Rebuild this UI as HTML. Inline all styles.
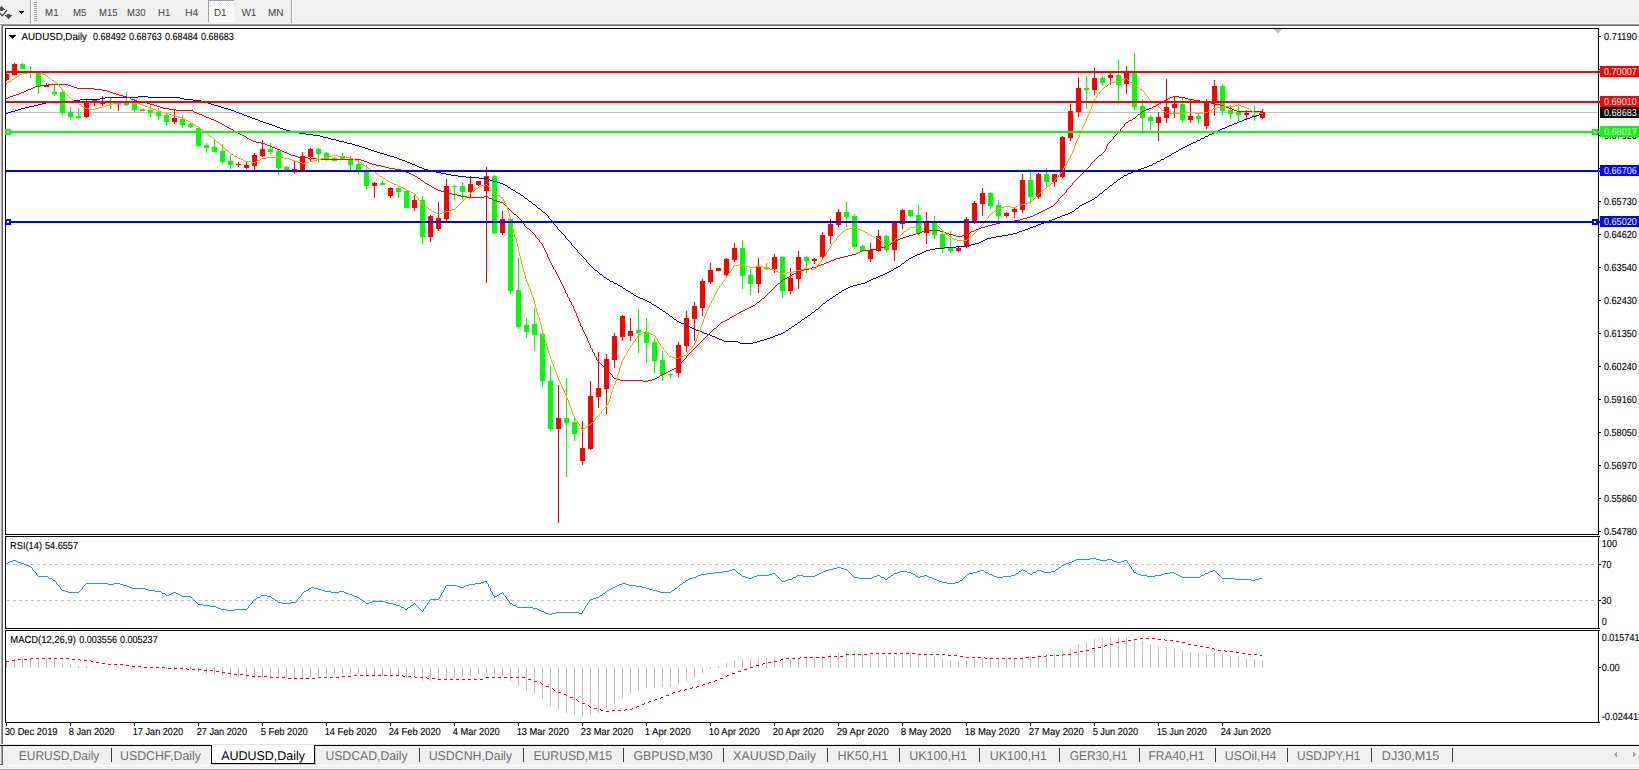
<!DOCTYPE html>
<html><head><meta charset="utf-8"><title>AUDUSD,Daily</title>
<style>
html,body{margin:0;padding:0;background:#fff;overflow:hidden}
svg{display:block;font-family:"Liberation Sans",sans-serif}
text{white-space:pre;text-rendering:geometricPrecision}
</style></head><body>
<svg width="1639" height="770" viewBox="0 0 1639 770">
<rect x="0" y="0" width="1639" height="770" fill="#fff"/>
<rect x="0" y="0" width="1639" height="23" fill="#f0f0f0"/>
<rect x="0" y="23" width="1639" height="1" fill="#f6f6f6"/>
<rect x="0" y="24" width="1639" height="1" fill="#a0a0a0"/>
<rect x="0" y="25" width="1639" height="1" fill="#696969"/>
<rect x="0" y="25" width="1" height="719" fill="#f0f0f0"/>
<rect x="1" y="25" width="1" height="719" fill="#a0a0a0"/>
<rect x="2" y="25" width="1" height="719" fill="#696969"/>
<rect x="0" y="24" width="1639" height="1" fill="#a0a0a0"/>
<rect x="2" y="25" width="1637" height="1" fill="#696969"/>
<g shape-rendering="crispEdges">
<rect x="1" y="6" width="1" height="1" fill="#505050"/>
<rect x="0" y="7" width="3" height="1" fill="#505050"/>
<rect x="0" y="8" width="4" height="1" fill="#505050"/>
<rect x="0" y="9" width="5" height="1" fill="#505050"/>
<rect x="0" y="10" width="3" height="1" fill="#505050"/>
<rect x="7" y="14" width="3" height="1" fill="#505050"/>
<rect x="5" y="15" width="7" height="1" fill="#505050"/>
<rect x="6" y="16" width="5" height="1" fill="#505050"/>
<rect x="7" y="17" width="3" height="1" fill="#505050"/>
<rect x="8" y="18" width="1" height="1" fill="#505050"/>
<rect x="19" y="11" width="5" height="1" fill="#000"/>
<rect x="20" y="12" width="3" height="1" fill="#000"/>
<rect x="21" y="13" width="1" height="1" fill="#000"/>
</g>
<polyline points="-0.5,13.1 2.4,15.8 6.9,10.4" fill="none" stroke="#505050" stroke-width="1.4"/>
<rect x="30" y="0" width="1" height="23" fill="#a0a0a0"/>
<rect x="31" y="0" width="1" height="23" fill="#fff"/>
<rect x="34" y="2" width="3" height="1" fill="#a0a0a0"/>
<rect x="34" y="4" width="3" height="1" fill="#a0a0a0"/>
<rect x="34" y="6" width="3" height="1" fill="#a0a0a0"/>
<rect x="34" y="8" width="3" height="1" fill="#a0a0a0"/>
<rect x="34" y="10" width="3" height="1" fill="#a0a0a0"/>
<rect x="34" y="12" width="3" height="1" fill="#a0a0a0"/>
<rect x="34" y="14" width="3" height="1" fill="#a0a0a0"/>
<rect x="34" y="16" width="3" height="1" fill="#a0a0a0"/>
<rect x="34" y="18" width="3" height="1" fill="#a0a0a0"/>
<rect x="34" y="20" width="3" height="1" fill="#a0a0a0"/>
<defs><pattern id="chk" width="2" height="2" patternUnits="userSpaceOnUse"><rect width="2" height="2" fill="#f0f0f0"/><rect width="1" height="1" fill="#fff"/><rect x="1" y="1" width="1" height="1" fill="#fff"/></pattern></defs>
<rect x="208" y="0" width="26" height="22" fill="url(#chk)"/>
<rect x="208" y="0" width="26" height="1" fill="#a0a0a0"/>
<rect x="208" y="0" width="1" height="22" fill="#a0a0a0"/>
<rect x="233" y="1" width="1" height="21" fill="#fff"/>
<rect x="209" y="21" width="25" height="1" fill="#fff"/>
<rect x="291" y="0" width="1" height="23" fill="#a0a0a0"/>
<rect x="292" y="0" width="1" height="23" fill="#fff"/>
<text x="45.1" y="16" font-size="10.2" fill="#444" stroke="#444" stroke-width="0" textLength="13.4" lengthAdjust="spacingAndGlyphs">M1</text>
<text x="73.0" y="16" font-size="10.2" fill="#444" stroke="#444" stroke-width="0" textLength="13.4" lengthAdjust="spacingAndGlyphs">M5</text>
<text x="99.10000000000001" y="16" font-size="10.2" fill="#444" stroke="#444" stroke-width="0" textLength="18.4" lengthAdjust="spacingAndGlyphs">M15</text>
<text x="127.0" y="16" font-size="10.2" fill="#444" stroke="#444" stroke-width="0" textLength="18.4" lengthAdjust="spacingAndGlyphs">M30</text>
<text x="158.1" y="16" font-size="10.2" fill="#444" stroke="#444" stroke-width="0" textLength="12.4" lengthAdjust="spacingAndGlyphs">H1</text>
<text x="185.1" y="16" font-size="10.2" fill="#444" stroke="#444" stroke-width="0" textLength="13.3" lengthAdjust="spacingAndGlyphs">H4</text>
<text x="213.9" y="16" font-size="10.2" fill="#444" stroke="#444" stroke-width="0" textLength="12.5" lengthAdjust="spacingAndGlyphs">D1</text>
<text x="241.4" y="16" font-size="10.2" fill="#444" stroke="#444" stroke-width="0" textLength="15.0" lengthAdjust="spacingAndGlyphs">W1</text>
<text x="267.9" y="16" font-size="10.2" fill="#444" stroke="#444" stroke-width="0" textLength="15.5" lengthAdjust="spacingAndGlyphs">MN</text>
<rect x="5" y="28" width="1594" height="1" fill="#000"/>
<rect x="5" y="534" width="1594" height="1" fill="#000"/>
<rect x="5" y="28" width="1" height="507" fill="#000"/>
<rect x="1598" y="28" width="1" height="507" fill="#000"/>
<rect x="5" y="536" width="1594" height="1" fill="#000"/>
<rect x="5" y="628" width="1594" height="1" fill="#000"/>
<rect x="5" y="536" width="1" height="93" fill="#000"/>
<rect x="1598" y="536" width="1" height="93" fill="#000"/>
<rect x="5" y="630" width="1594" height="1" fill="#000"/>
<rect x="5" y="722" width="1594" height="1" fill="#000"/>
<rect x="5" y="630" width="1" height="93" fill="#000"/>
<rect x="1598" y="630" width="1" height="93" fill="#000"/>
<defs><clipPath id="c1"><rect x="6" y="29" width="1592" height="505"/></clipPath></defs>
<g clip-path="url(#c1)" shape-rendering="crispEdges">
<rect x="6" y="112" width="1592" height="1" fill="#c0c0c0"/>
<rect x="6" y="73" width="1" height="8" fill="#ff0000"/>
<rect x="4" y="74" width="5" height="6" fill="#ff0000"/>
<rect x="14" y="63" width="1" height="12" fill="#ff0000"/>
<rect x="12" y="64" width="5" height="11" fill="#ff0000"/>
<rect x="22" y="63" width="1" height="6" fill="#00ff00"/>
<rect x="20" y="64" width="5" height="5" fill="#00ff00"/>
<rect x="30" y="66" width="1" height="12" fill="#00ff00"/>
<rect x="28" y="71" width="5" height="1" fill="#00ff00"/>
<rect x="38" y="73" width="1" height="21" fill="#00ff00"/>
<rect x="36" y="73" width="5" height="14" fill="#00ff00"/>
<rect x="46" y="83" width="1" height="4" fill="#ff0000"/>
<rect x="44" y="85" width="5" height="2" fill="#ff0000"/>
<rect x="54" y="85" width="1" height="11" fill="#00ff00"/>
<rect x="52" y="92" width="5" height="2" fill="#00ff00"/>
<rect x="62" y="90" width="1" height="25" fill="#00ff00"/>
<rect x="60" y="92" width="5" height="21" fill="#00ff00"/>
<rect x="70" y="107" width="1" height="12" fill="#00ff00"/>
<rect x="68" y="112" width="5" height="5" fill="#00ff00"/>
<rect x="78" y="108" width="1" height="11" fill="#00ff00"/>
<rect x="76" y="116" width="5" height="2" fill="#00ff00"/>
<rect x="86" y="100" width="1" height="18" fill="#ff0000"/>
<rect x="84" y="102" width="5" height="15" fill="#ff0000"/>
<rect x="94" y="100" width="1" height="6" fill="#ff0000"/>
<rect x="92" y="100" width="5" height="2" fill="#ff0000"/>
<rect x="102" y="96" width="1" height="10" fill="#ff0000"/>
<rect x="100" y="102" width="5" height="2" fill="#ff0000"/>
<rect x="110" y="98" width="1" height="11" fill="#00ff00"/>
<rect x="108" y="101" width="5" height="2" fill="#00ff00"/>
<rect x="118" y="102" width="1" height="9" fill="#ff0000"/>
<rect x="116" y="102" width="5" height="2" fill="#ff0000"/>
<rect x="126" y="92" width="1" height="14" fill="#00ff00"/>
<rect x="124" y="103" width="5" height="2" fill="#00ff00"/>
<rect x="134" y="99" width="1" height="13" fill="#00ff00"/>
<rect x="132" y="103" width="5" height="7" fill="#00ff00"/>
<rect x="142" y="109" width="1" height="2" fill="#00ff00"/>
<rect x="140" y="109" width="5" height="2" fill="#00ff00"/>
<rect x="150" y="106" width="1" height="11" fill="#00ff00"/>
<rect x="148" y="110" width="5" height="3" fill="#00ff00"/>
<rect x="158" y="108" width="1" height="12" fill="#00ff00"/>
<rect x="156" y="112" width="5" height="4" fill="#00ff00"/>
<rect x="166" y="114" width="1" height="11" fill="#00ff00"/>
<rect x="164" y="115" width="5" height="7" fill="#00ff00"/>
<rect x="174" y="110" width="1" height="14" fill="#ff0000"/>
<rect x="172" y="118" width="5" height="4" fill="#ff0000"/>
<rect x="182" y="115" width="1" height="13" fill="#00ff00"/>
<rect x="180" y="119" width="5" height="6" fill="#00ff00"/>
<rect x="190" y="123" width="1" height="5" fill="#00ff00"/>
<rect x="188" y="124" width="5" height="3" fill="#00ff00"/>
<rect x="198" y="127" width="1" height="20" fill="#00ff00"/>
<rect x="196" y="128" width="5" height="18" fill="#00ff00"/>
<rect x="206" y="143" width="1" height="10" fill="#00ff00"/>
<rect x="204" y="145" width="5" height="3" fill="#00ff00"/>
<rect x="214" y="139" width="1" height="14" fill="#00ff00"/>
<rect x="212" y="147" width="5" height="5" fill="#00ff00"/>
<rect x="222" y="144" width="1" height="20" fill="#00ff00"/>
<rect x="220" y="151" width="5" height="11" fill="#00ff00"/>
<rect x="230" y="155" width="1" height="14" fill="#00ff00"/>
<rect x="228" y="161" width="5" height="4" fill="#00ff00"/>
<rect x="238" y="162" width="1" height="5" fill="#ff0000"/>
<rect x="236" y="164" width="5" height="1" fill="#ff0000"/>
<rect x="246" y="161" width="1" height="8" fill="#ff0000"/>
<rect x="244" y="165" width="5" height="3" fill="#ff0000"/>
<rect x="254" y="153" width="1" height="17" fill="#ff0000"/>
<rect x="252" y="155" width="5" height="11" fill="#ff0000"/>
<rect x="262" y="140" width="1" height="17" fill="#ff0000"/>
<rect x="260" y="149" width="5" height="7" fill="#ff0000"/>
<rect x="270" y="143" width="1" height="11" fill="#00ff00"/>
<rect x="268" y="149" width="5" height="3" fill="#00ff00"/>
<rect x="278" y="150" width="1" height="25" fill="#00ff00"/>
<rect x="276" y="151" width="5" height="17" fill="#00ff00"/>
<rect x="286" y="166" width="1" height="4" fill="#00ff00"/>
<rect x="284" y="167" width="5" height="3" fill="#00ff00"/>
<rect x="294" y="161" width="1" height="13" fill="#ff0000"/>
<rect x="292" y="169" width="5" height="2" fill="#ff0000"/>
<rect x="302" y="152" width="1" height="18" fill="#ff0000"/>
<rect x="300" y="156" width="5" height="14" fill="#ff0000"/>
<rect x="310" y="148" width="1" height="13" fill="#ff0000"/>
<rect x="308" y="149" width="5" height="8" fill="#ff0000"/>
<rect x="318" y="148" width="1" height="14" fill="#00ff00"/>
<rect x="316" y="149" width="5" height="5" fill="#00ff00"/>
<rect x="326" y="152" width="1" height="9" fill="#00ff00"/>
<rect x="324" y="153" width="5" height="6" fill="#00ff00"/>
<rect x="334" y="157" width="1" height="4" fill="#00ff00"/>
<rect x="332" y="158" width="5" height="3" fill="#00ff00"/>
<rect x="342" y="153" width="1" height="7" fill="#00ff00"/>
<rect x="340" y="156" width="5" height="3" fill="#00ff00"/>
<rect x="350" y="156" width="1" height="14" fill="#00ff00"/>
<rect x="348" y="159" width="5" height="6" fill="#00ff00"/>
<rect x="358" y="159" width="1" height="15" fill="#00ff00"/>
<rect x="356" y="164" width="5" height="6" fill="#00ff00"/>
<rect x="366" y="165" width="1" height="24" fill="#00ff00"/>
<rect x="364" y="170" width="5" height="16" fill="#00ff00"/>
<rect x="374" y="182" width="1" height="16" fill="#ff0000"/>
<rect x="372" y="183" width="5" height="3" fill="#ff0000"/>
<rect x="382" y="181" width="1" height="4" fill="#00ff00"/>
<rect x="380" y="183" width="5" height="2" fill="#00ff00"/>
<rect x="390" y="187" width="1" height="11" fill="#ff0000"/>
<rect x="388" y="188" width="5" height="8" fill="#ff0000"/>
<rect x="398" y="187" width="1" height="11" fill="#00ff00"/>
<rect x="396" y="188" width="5" height="4" fill="#00ff00"/>
<rect x="406" y="191" width="1" height="17" fill="#00ff00"/>
<rect x="404" y="191" width="5" height="17" fill="#00ff00"/>
<rect x="414" y="195" width="1" height="16" fill="#ff0000"/>
<rect x="412" y="200" width="5" height="8" fill="#ff0000"/>
<rect x="422" y="196" width="1" height="48" fill="#00ff00"/>
<rect x="420" y="200" width="5" height="37" fill="#00ff00"/>
<rect x="430" y="215" width="1" height="27" fill="#ff0000"/>
<rect x="428" y="216" width="5" height="21" fill="#ff0000"/>
<rect x="438" y="202" width="1" height="29" fill="#ff0000"/>
<rect x="436" y="218" width="5" height="11" fill="#ff0000"/>
<rect x="446" y="179" width="1" height="42" fill="#ff0000"/>
<rect x="444" y="186" width="5" height="33" fill="#ff0000"/>
<rect x="454" y="185" width="1" height="16" fill="#00ff00"/>
<rect x="452" y="186" width="5" height="1" fill="#00ff00"/>
<rect x="462" y="182" width="1" height="18" fill="#00ff00"/>
<rect x="460" y="186" width="5" height="6" fill="#00ff00"/>
<rect x="470" y="176" width="1" height="22" fill="#ff0000"/>
<rect x="468" y="184" width="5" height="8" fill="#ff0000"/>
<rect x="478" y="181" width="1" height="5" fill="#ff0000"/>
<rect x="476" y="181" width="5" height="4" fill="#ff0000"/>
<rect x="486" y="167" width="1" height="116" fill="#ff0000"/>
<rect x="484" y="176" width="5" height="15" fill="#ff0000"/>
<rect x="494" y="175" width="1" height="59" fill="#00ff00"/>
<rect x="492" y="176" width="5" height="57" fill="#00ff00"/>
<rect x="502" y="211" width="1" height="24" fill="#ff0000"/>
<rect x="500" y="219" width="5" height="14" fill="#ff0000"/>
<rect x="510" y="217" width="1" height="77" fill="#00ff00"/>
<rect x="508" y="219" width="5" height="72" fill="#00ff00"/>
<rect x="518" y="258" width="1" height="71" fill="#00ff00"/>
<rect x="516" y="290" width="5" height="37" fill="#00ff00"/>
<rect x="526" y="318" width="1" height="20" fill="#00ff00"/>
<rect x="524" y="325" width="5" height="7" fill="#00ff00"/>
<rect x="534" y="308" width="1" height="43" fill="#00ff00"/>
<rect x="532" y="324" width="5" height="11" fill="#00ff00"/>
<rect x="542" y="329" width="1" height="58" fill="#00ff00"/>
<rect x="540" y="334" width="5" height="47" fill="#00ff00"/>
<rect x="550" y="366" width="1" height="65" fill="#00ff00"/>
<rect x="548" y="381" width="5" height="48" fill="#00ff00"/>
<rect x="558" y="385" width="1" height="138" fill="#ff0000"/>
<rect x="556" y="418" width="5" height="11" fill="#ff0000"/>
<rect x="566" y="378" width="1" height="99" fill="#00ff00"/>
<rect x="564" y="418" width="5" height="5" fill="#00ff00"/>
<rect x="574" y="418" width="1" height="23" fill="#00ff00"/>
<rect x="572" y="422" width="5" height="12" fill="#00ff00"/>
<rect x="582" y="421" width="1" height="44" fill="#ff0000"/>
<rect x="580" y="448" width="5" height="13" fill="#ff0000"/>
<rect x="590" y="381" width="1" height="69" fill="#ff0000"/>
<rect x="588" y="396" width="5" height="53" fill="#ff0000"/>
<rect x="598" y="352" width="1" height="56" fill="#ff0000"/>
<rect x="596" y="388" width="5" height="9" fill="#ff0000"/>
<rect x="606" y="354" width="1" height="60" fill="#ff0000"/>
<rect x="604" y="359" width="5" height="30" fill="#ff0000"/>
<rect x="614" y="333" width="1" height="35" fill="#ff0000"/>
<rect x="612" y="336" width="5" height="24" fill="#ff0000"/>
<rect x="622" y="315" width="1" height="26" fill="#ff0000"/>
<rect x="620" y="316" width="5" height="21" fill="#ff0000"/>
<rect x="630" y="318" width="1" height="23" fill="#ff0000"/>
<rect x="628" y="331" width="5" height="5" fill="#ff0000"/>
<rect x="638" y="309" width="1" height="44" fill="#00ff00"/>
<rect x="636" y="330" width="5" height="3" fill="#00ff00"/>
<rect x="646" y="318" width="1" height="45" fill="#00ff00"/>
<rect x="644" y="332" width="5" height="11" fill="#00ff00"/>
<rect x="654" y="338" width="1" height="35" fill="#00ff00"/>
<rect x="652" y="342" width="5" height="19" fill="#00ff00"/>
<rect x="662" y="351" width="1" height="30" fill="#00ff00"/>
<rect x="660" y="360" width="5" height="15" fill="#00ff00"/>
<rect x="670" y="373" width="1" height="5" fill="#00ff00"/>
<rect x="668" y="374" width="5" height="1" fill="#00ff00"/>
<rect x="678" y="342" width="1" height="35" fill="#ff0000"/>
<rect x="676" y="345" width="5" height="28" fill="#ff0000"/>
<rect x="686" y="311" width="1" height="41" fill="#ff0000"/>
<rect x="684" y="318" width="5" height="28" fill="#ff0000"/>
<rect x="694" y="302" width="1" height="39" fill="#ff0000"/>
<rect x="692" y="306" width="5" height="13" fill="#ff0000"/>
<rect x="702" y="279" width="1" height="37" fill="#ff0000"/>
<rect x="700" y="281" width="5" height="27" fill="#ff0000"/>
<rect x="710" y="263" width="1" height="21" fill="#ff0000"/>
<rect x="708" y="270" width="5" height="12" fill="#ff0000"/>
<rect x="718" y="268" width="1" height="3" fill="#ff0000"/>
<rect x="716" y="268" width="5" height="3" fill="#ff0000"/>
<rect x="726" y="258" width="1" height="18" fill="#ff0000"/>
<rect x="724" y="259" width="5" height="16" fill="#ff0000"/>
<rect x="734" y="243" width="1" height="19" fill="#ff0000"/>
<rect x="732" y="248" width="5" height="12" fill="#ff0000"/>
<rect x="742" y="240" width="1" height="49" fill="#00ff00"/>
<rect x="740" y="248" width="5" height="28" fill="#00ff00"/>
<rect x="750" y="269" width="1" height="26" fill="#00ff00"/>
<rect x="748" y="275" width="5" height="9" fill="#00ff00"/>
<rect x="758" y="258" width="1" height="35" fill="#ff0000"/>
<rect x="756" y="266" width="5" height="18" fill="#ff0000"/>
<rect x="766" y="263" width="1" height="7" fill="#00ff00"/>
<rect x="764" y="267" width="5" height="2" fill="#00ff00"/>
<rect x="774" y="254" width="1" height="19" fill="#ff0000"/>
<rect x="772" y="257" width="5" height="12" fill="#ff0000"/>
<rect x="782" y="256" width="1" height="42" fill="#00ff00"/>
<rect x="780" y="257" width="5" height="34" fill="#00ff00"/>
<rect x="790" y="268" width="1" height="26" fill="#ff0000"/>
<rect x="788" y="278" width="5" height="13" fill="#ff0000"/>
<rect x="798" y="251" width="1" height="38" fill="#ff0000"/>
<rect x="796" y="257" width="5" height="22" fill="#ff0000"/>
<rect x="806" y="256" width="1" height="17" fill="#00ff00"/>
<rect x="804" y="257" width="5" height="4" fill="#00ff00"/>
<rect x="814" y="258" width="1" height="6" fill="#ff0000"/>
<rect x="812" y="259" width="5" height="2" fill="#ff0000"/>
<rect x="822" y="232" width="1" height="26" fill="#ff0000"/>
<rect x="820" y="235" width="5" height="22" fill="#ff0000"/>
<rect x="830" y="219" width="1" height="25" fill="#ff0000"/>
<rect x="828" y="224" width="5" height="12" fill="#ff0000"/>
<rect x="838" y="209" width="1" height="18" fill="#ff0000"/>
<rect x="836" y="212" width="5" height="13" fill="#ff0000"/>
<rect x="846" y="202" width="1" height="25" fill="#00ff00"/>
<rect x="844" y="212" width="5" height="5" fill="#00ff00"/>
<rect x="854" y="214" width="1" height="35" fill="#00ff00"/>
<rect x="852" y="216" width="5" height="31" fill="#00ff00"/>
<rect x="862" y="245" width="1" height="7" fill="#00ff00"/>
<rect x="860" y="246" width="5" height="5" fill="#00ff00"/>
<rect x="870" y="243" width="1" height="19" fill="#ff0000"/>
<rect x="868" y="250" width="5" height="9" fill="#ff0000"/>
<rect x="878" y="230" width="1" height="22" fill="#ff0000"/>
<rect x="876" y="236" width="5" height="15" fill="#ff0000"/>
<rect x="886" y="235" width="1" height="17" fill="#00ff00"/>
<rect x="884" y="236" width="5" height="14" fill="#00ff00"/>
<rect x="894" y="221" width="1" height="40" fill="#ff0000"/>
<rect x="892" y="223" width="5" height="27" fill="#ff0000"/>
<rect x="902" y="209" width="1" height="20" fill="#ff0000"/>
<rect x="900" y="210" width="5" height="14" fill="#ff0000"/>
<rect x="910" y="210" width="1" height="7" fill="#00ff00"/>
<rect x="908" y="210" width="5" height="6" fill="#00ff00"/>
<rect x="918" y="205" width="1" height="30" fill="#00ff00"/>
<rect x="916" y="215" width="5" height="18" fill="#00ff00"/>
<rect x="926" y="212" width="1" height="32" fill="#ff0000"/>
<rect x="924" y="223" width="5" height="10" fill="#ff0000"/>
<rect x="934" y="216" width="1" height="23" fill="#00ff00"/>
<rect x="932" y="221" width="5" height="14" fill="#00ff00"/>
<rect x="942" y="232" width="1" height="21" fill="#00ff00"/>
<rect x="940" y="234" width="5" height="15" fill="#00ff00"/>
<rect x="950" y="231" width="1" height="22" fill="#00ff00"/>
<rect x="948" y="247" width="5" height="4" fill="#00ff00"/>
<rect x="958" y="247" width="1" height="5" fill="#ff0000"/>
<rect x="956" y="248" width="5" height="3" fill="#ff0000"/>
<rect x="966" y="217" width="1" height="31" fill="#ff0000"/>
<rect x="964" y="219" width="5" height="28" fill="#ff0000"/>
<rect x="974" y="201" width="1" height="23" fill="#ff0000"/>
<rect x="972" y="203" width="5" height="18" fill="#ff0000"/>
<rect x="982" y="188" width="1" height="28" fill="#ff0000"/>
<rect x="980" y="193" width="5" height="11" fill="#ff0000"/>
<rect x="990" y="192" width="1" height="17" fill="#00ff00"/>
<rect x="988" y="193" width="5" height="13" fill="#00ff00"/>
<rect x="998" y="200" width="1" height="22" fill="#00ff00"/>
<rect x="996" y="205" width="5" height="11" fill="#00ff00"/>
<rect x="1006" y="212" width="1" height="5" fill="#ff0000"/>
<rect x="1004" y="213" width="5" height="3" fill="#ff0000"/>
<rect x="1014" y="208" width="1" height="10" fill="#ff0000"/>
<rect x="1012" y="209" width="5" height="3" fill="#ff0000"/>
<rect x="1022" y="174" width="1" height="39" fill="#ff0000"/>
<rect x="1020" y="180" width="5" height="30" fill="#ff0000"/>
<rect x="1030" y="169" width="1" height="35" fill="#00ff00"/>
<rect x="1028" y="180" width="5" height="17" fill="#00ff00"/>
<rect x="1038" y="173" width="1" height="26" fill="#ff0000"/>
<rect x="1036" y="174" width="5" height="23" fill="#ff0000"/>
<rect x="1046" y="168" width="1" height="20" fill="#00ff00"/>
<rect x="1044" y="174" width="5" height="8" fill="#00ff00"/>
<rect x="1054" y="174" width="1" height="13" fill="#ff0000"/>
<rect x="1052" y="174" width="5" height="8" fill="#ff0000"/>
<rect x="1062" y="136" width="1" height="42" fill="#ff0000"/>
<rect x="1060" y="137" width="5" height="40" fill="#ff0000"/>
<rect x="1070" y="104" width="1" height="37" fill="#ff0000"/>
<rect x="1068" y="111" width="5" height="27" fill="#ff0000"/>
<rect x="1078" y="77" width="1" height="40" fill="#ff0000"/>
<rect x="1076" y="88" width="5" height="24" fill="#ff0000"/>
<rect x="1086" y="76" width="1" height="33" fill="#00ff00"/>
<rect x="1084" y="88" width="5" height="2" fill="#00ff00"/>
<rect x="1094" y="68" width="1" height="27" fill="#ff0000"/>
<rect x="1092" y="78" width="5" height="12" fill="#ff0000"/>
<rect x="1102" y="76" width="1" height="10" fill="#00ff00"/>
<rect x="1100" y="78" width="5" height="5" fill="#00ff00"/>
<rect x="1110" y="73" width="1" height="12" fill="#ff0000"/>
<rect x="1108" y="75" width="5" height="3" fill="#ff0000"/>
<rect x="1118" y="60" width="1" height="45" fill="#00ff00"/>
<rect x="1116" y="75" width="5" height="10" fill="#00ff00"/>
<rect x="1126" y="66" width="1" height="28" fill="#ff0000"/>
<rect x="1124" y="73" width="5" height="11" fill="#ff0000"/>
<rect x="1134" y="53" width="1" height="57" fill="#00ff00"/>
<rect x="1132" y="73" width="5" height="34" fill="#00ff00"/>
<rect x="1142" y="99" width="1" height="35" fill="#00ff00"/>
<rect x="1140" y="106" width="5" height="12" fill="#00ff00"/>
<rect x="1150" y="115" width="1" height="15" fill="#00ff00"/>
<rect x="1148" y="117" width="5" height="4" fill="#00ff00"/>
<rect x="1158" y="112" width="1" height="29" fill="#ff0000"/>
<rect x="1156" y="117" width="5" height="6" fill="#ff0000"/>
<rect x="1166" y="79" width="1" height="44" fill="#ff0000"/>
<rect x="1164" y="107" width="5" height="11" fill="#ff0000"/>
<rect x="1174" y="97" width="1" height="21" fill="#ff0000"/>
<rect x="1172" y="104" width="5" height="4" fill="#ff0000"/>
<rect x="1182" y="98" width="1" height="24" fill="#00ff00"/>
<rect x="1180" y="104" width="5" height="16" fill="#00ff00"/>
<rect x="1190" y="100" width="1" height="23" fill="#ff0000"/>
<rect x="1188" y="116" width="5" height="4" fill="#ff0000"/>
<rect x="1198" y="114" width="1" height="10" fill="#00ff00"/>
<rect x="1196" y="116" width="5" height="3" fill="#00ff00"/>
<rect x="1206" y="99" width="1" height="30" fill="#ff0000"/>
<rect x="1204" y="101" width="5" height="25" fill="#ff0000"/>
<rect x="1214" y="80" width="1" height="36" fill="#ff0000"/>
<rect x="1212" y="86" width="5" height="16" fill="#ff0000"/>
<rect x="1222" y="84" width="1" height="31" fill="#00ff00"/>
<rect x="1220" y="86" width="5" height="25" fill="#00ff00"/>
<rect x="1230" y="105" width="1" height="14" fill="#00ff00"/>
<rect x="1228" y="110" width="5" height="4" fill="#00ff00"/>
<rect x="1238" y="104" width="1" height="17" fill="#00ff00"/>
<rect x="1236" y="112" width="5" height="3" fill="#00ff00"/>
<rect x="1246" y="110" width="1" height="9" fill="#ff0000"/>
<rect x="1244" y="113" width="5" height="2" fill="#ff0000"/>
<rect x="1254" y="105" width="1" height="16" fill="#00ff00"/>
<rect x="1252" y="115" width="5" height="2" fill="#00ff00"/>
<rect x="1262" y="109" width="1" height="10" fill="#ff0000"/>
<rect x="1260" y="112" width="5" height="6" fill="#ff0000"/>
</g>
<g clip-path="url(#c1)" shape-rendering="crispEdges">
<path d="M138 96.5h10M105 97.5h33M148 97.5h32M100 98.5h5M180 98.5h4M80 99.5h20M184 99.5h9M74 100.5h6M193 100.5h8M60 101.5h14M201 101.5h3M46 102.5h14M204 102.5h4M42 103.5h4M208 103.5h3M38 104.5h4M211 104.5h3M34 105.5h4M214 105.5h4M29 106.5h5M218 106.5h3M25 107.5h4M221 107.5h3M21 108.5h4M224 108.5h4M18 109.5h3M228 109.5h3M15 110.5h3M231 110.5h3M11 111.5h4M234 111.5h2M8 112.5h3M236 112.5h3M6 113.5h2M239 113.5h3M242 114.5h2M1259 114.5h3M244 115.5h3M1256 115.5h3M247 116.5h3M1252 116.5h4M250 117.5h2M1250 117.5h2M252 118.5h3M1247 118.5h3M255 119.5h3M1244 119.5h3M258 120.5h2M1242 120.5h2M260 121.5h3M1239 121.5h3M263 122.5h3M1237 122.5h2M266 123.5h3M1234 123.5h3M269 124.5h3M1232 124.5h2M272 125.5h3M1229 125.5h3M275 126.5h2M1227 126.5h2M277 127.5h3M1225 127.5h2M280 128.5h3M1222 128.5h3M283 129.5h3M1220 129.5h2M286 130.5h4M1218 130.5h2M290 131.5h4M1215 131.5h3M294 132.5h5M1214 132.5h1M299 133.5h7M1212 133.5h2M306 134.5h7M1209 134.5h3M313 135.5h7M1208 135.5h1M320 136.5h3M1205 136.5h3M323 137.5h5M1204 137.5h1M328 138.5h3M1201 138.5h3M331 139.5h5M1200 139.5h1M336 140.5h3M1197 140.5h3M339 141.5h5M1196 141.5h1M344 142.5h3M1193 142.5h3M347 143.5h5M1191 143.5h2M352 144.5h3M1189 144.5h2M355 145.5h4M1187 145.5h2M359 146.5h3M1185 146.5h2M362 147.5h3M1183 147.5h2M365 148.5h3M1181 148.5h2M368 149.5h3M1179 149.5h2M371 150.5h3M1178 150.5h1M374 151.5h3M1176 151.5h2M377 152.5h3M1174 152.5h2M380 153.5h4M1172 153.5h2M384 154.5h3M1171 154.5h1M387 155.5h3M1169 155.5h2M390 156.5h4M1167 156.5h2M394 157.5h3M1165 157.5h2M397 158.5h2M1164 158.5h1M399 159.5h3M1161 159.5h3M402 160.5h3M1160 160.5h1M405 161.5h2M1157 161.5h3M407 162.5h3M1156 162.5h1M410 163.5h2M1153 163.5h3M412 164.5h3M1152 164.5h1M415 165.5h2M1149 165.5h3M417 166.5h2M1147 166.5h2M419 167.5h3M1144 167.5h3M422 168.5h2M1141 168.5h3M424 169.5h4M1138 169.5h3M428 170.5h4M1136 170.5h2M432 171.5h4M1133 171.5h3M436 172.5h5M1131 172.5h2M441 173.5h5M1128 173.5h3M446 174.5h5M1127 174.5h1M451 175.5h7M1124 175.5h3M458 176.5h8M1123 176.5h1M466 177.5h13M1121 177.5h2M479 178.5h9M1120 178.5h1M488 179.5h2M1118 179.5h2M490 180.5h3M1117 180.5h1M493 181.5h4M1116 181.5h1M497 182.5h3M1114 182.5h2M500 183.5h3M1113 183.5h1M503 184.5h2M1112 184.5h1M505 185.5h2M1110 185.5h2M507 186.5h1M1109 186.5h1M508 187.5h2M1108 187.5h1M510 188.5h1M1107 188.5h1M511 189.5h2M1105 189.5h2M513 190.5h2M1104 190.5h1M515 191.5h1M1103 191.5h1M516 192.5h2M1102 192.5h1M518 193.5h2M1100 193.5h2M520 194.5h1M1099 194.5h1M521 195.5h2M1098 195.5h1M523 196.5h1M1097 196.5h1M524 197.5h1M1095 197.5h2M525 198.5h2M1094 198.5h1M527 199.5h1M1092 199.5h2M528 200.5h1M1090 200.5h2M529 201.5h2M1088 201.5h2M531 202.5h1M1086 202.5h2M532 203.5h1M1084 203.5h2M533 204.5h2M1082 204.5h2M535 205.5h1M1080 205.5h2M536 206.5h1M1079 206.5h1M537 207.5h1M1078 207.5h1M538 208.5h2M1076 208.5h2M540 209.5h1M1075 209.5h1M541 210.5h1M1074 210.5h1M542 211.5h1M1072 211.5h2M543 212.5h2M1070 212.5h2M545 213.5h1M1068 213.5h2M546 214.5h1M1065 214.5h3M547 215.5h1M1062 215.5h3M548 216.5h1M1060 216.5h2M548 217.5h1M1057 217.5h3M549 218.5h1M1055 218.5h2M550 219.5h1M1052 219.5h3M551 220.5h1M1049 220.5h3M551 221.5h1M1047 221.5h2M552 222.5h1M1044 222.5h3M553 223.5h1M1041 223.5h3M554 224.5h1M1038 224.5h3M555 225.5h1M1036 225.5h2M556 226.5h1M1033 226.5h3M557 227.5h1M1030 227.5h3M557 228.5h1M1028 228.5h2M558 229.5h1M1025 229.5h3M559 230.5h1M1022 230.5h3M560 231.5h1M1019 231.5h3M561 232.5h1M1017 232.5h2M562 233.5h1M1013 233.5h4M563 234.5h1M1008 234.5h5M564 235.5h1M1002 235.5h6M565 236.5h1M996 236.5h6M565 237.5h1M991 237.5h5M566 238.5h1M987 238.5h4M567 239.5h1M985 239.5h2M568 240.5h1M983 240.5h2M569 241.5h1M981 241.5h2M570 242.5h1M979 242.5h2M571 243.5h1M975 243.5h4M571 244.5h1M971 244.5h4M572 245.5h1M965 245.5h6M573 246.5h1M956 246.5h9M574 247.5h1M944 247.5h12M575 248.5h1M935 248.5h9M576 249.5h1M930 249.5h5M577 250.5h1M926 250.5h4M577 251.5h1M924 251.5h2M578 252.5h1M922 252.5h2M579 253.5h1M920 253.5h2M580 254.5h1M917 254.5h3M581 255.5h1M915 255.5h2M582 256.5h1M913 256.5h2M583 257.5h1M911 257.5h2M584 258.5h1M909 258.5h2M585 259.5h1M908 259.5h1M586 260.5h1M906 260.5h2M586 261.5h1M905 261.5h1M587 262.5h1M904 262.5h1M588 263.5h1M902 263.5h2M589 264.5h1M901 264.5h1M590 265.5h1M900 265.5h1M591 266.5h1M898 266.5h2M592 267.5h1M896 267.5h2M593 268.5h1M894 268.5h2M594 269.5h1M893 269.5h1M595 270.5h2M891 270.5h2M597 271.5h1M889 271.5h2M598 272.5h1M887 272.5h2M599 273.5h1M885 273.5h2M600 274.5h2M883 274.5h2M602 275.5h1M880 275.5h3M603 276.5h1M878 276.5h2M604 277.5h2M876 277.5h2M606 278.5h1M873 278.5h3M607 279.5h2M871 279.5h2M609 280.5h1M869 280.5h2M610 281.5h3M867 281.5h2M613 282.5h1M865 282.5h2M614 283.5h3M861 283.5h4M617 284.5h1M857 284.5h4M618 285.5h2M853 285.5h4M620 286.5h2M850 286.5h3M622 287.5h1M848 287.5h2M623 288.5h2M846 288.5h2M625 289.5h1M844 289.5h2M626 290.5h2M842 290.5h2M628 291.5h2M841 291.5h1M630 292.5h1M839 292.5h2M631 293.5h2M838 293.5h1M633 294.5h1M836 294.5h2M634 295.5h2M835 295.5h1M636 296.5h2M833 296.5h2M638 297.5h2M832 297.5h1M640 298.5h3M830 298.5h2M643 299.5h2M829 299.5h1M645 300.5h2M827 300.5h2M647 301.5h2M826 301.5h1M649 302.5h2M825 302.5h1M651 303.5h1M823 303.5h2M652 304.5h2M822 304.5h1M654 305.5h2M821 305.5h1M656 306.5h1M820 306.5h1M657 307.5h2M819 307.5h1M659 308.5h1M818 308.5h1M660 309.5h2M816 309.5h2M662 310.5h1M815 310.5h1M663 311.5h2M814 311.5h1M665 312.5h1M812 312.5h2M666 313.5h2M811 313.5h1M668 314.5h1M810 314.5h1M669 315.5h1M808 315.5h2M670 316.5h2M807 316.5h1M672 317.5h1M805 317.5h2M673 318.5h1M804 318.5h1M674 319.5h2M802 319.5h2M676 320.5h1M801 320.5h1M677 321.5h2M800 321.5h1M679 322.5h2M798 322.5h2M681 323.5h3M797 323.5h1M684 324.5h2M795 324.5h2M686 325.5h2M794 325.5h1M688 326.5h2M792 326.5h2M690 327.5h2M791 327.5h1M692 328.5h2M789 328.5h2M694 329.5h2M788 329.5h1M696 330.5h3M786 330.5h2M699 331.5h3M785 331.5h1M702 332.5h2M783 332.5h2M704 333.5h3M781 333.5h2M707 334.5h3M778 334.5h3M710 335.5h2M775 335.5h3M712 336.5h3M773 336.5h2M715 337.5h2M770 337.5h3M717 338.5h2M767 338.5h3M719 339.5h3M764 339.5h3M722 340.5h2M760 340.5h4M724 341.5h14M757 341.5h3M738 342.5h2M753 342.5h4M740 343.5h13" fill="none" stroke="#0000cd" stroke-width="1"/>
<path d="M48 84.5h20M40 85.5h8M68 85.5h3M35 86.5h5M71 86.5h3M33 87.5h2M74 87.5h3M31 88.5h2M77 88.5h17M28 89.5h3M94 89.5h8M26 90.5h2M102 90.5h5M24 91.5h2M107 91.5h3M21 92.5h3M110 92.5h3M19 93.5h2M113 93.5h3M16 94.5h3M116 94.5h3M13 95.5h3M119 95.5h4M10 96.5h3M123 96.5h4M1173 96.5h6M8 97.5h2M127 97.5h3M1170 97.5h3M1179 97.5h6M6 98.5h2M130 98.5h1M1168 98.5h2M1185 98.5h3M131 99.5h3M1166 99.5h2M1188 99.5h6M134 100.5h3M1164 100.5h2M1194 100.5h6M137 101.5h5M1163 101.5h1M1200 101.5h5M142 102.5h5M1161 102.5h2M1205 102.5h6M147 103.5h3M1159 103.5h2M1211 103.5h4M150 104.5h4M1157 104.5h2M1215 104.5h5M154 105.5h3M1156 105.5h1M1220 105.5h4M157 106.5h3M1153 106.5h3M1224 106.5h2M160 107.5h3M1152 107.5h1M1226 107.5h3M163 108.5h6M1149 108.5h3M1229 108.5h3M169 109.5h7M1146 109.5h3M1232 109.5h2M176 110.5h17M1144 110.5h2M1234 110.5h3M193 111.5h1M1142 111.5h2M1237 111.5h26M194 112.5h3M1141 112.5h1M197 113.5h2M1140 113.5h1M199 114.5h3M1138 114.5h2M202 115.5h2M1137 115.5h1M204 116.5h2M1136 116.5h1M206 117.5h3M1135 117.5h1M209 118.5h2M1133 118.5h2M211 119.5h3M1132 119.5h1M214 120.5h2M1129 120.5h3M216 121.5h2M1128 121.5h1M218 122.5h2M1126 122.5h2M220 123.5h2M1125 123.5h1M222 124.5h2M1124 124.5h1M224 125.5h1M1124 125.5h1M225 126.5h2M1123 126.5h1M227 127.5h2M1122 127.5h1M229 128.5h2M1121 128.5h1M231 129.5h2M1120 129.5h1M233 130.5h1M1120 130.5h1M234 131.5h3M1119 131.5h1M237 132.5h1M1118 132.5h1M238 133.5h2M1117 133.5h1M240 134.5h2M1116 134.5h1M242 135.5h2M1115 135.5h1M244 136.5h2M1114 136.5h1M246 137.5h1M1113 137.5h1M247 138.5h2M1113 138.5h1M249 139.5h2M1112 139.5h1M251 140.5h2M1111 140.5h1M253 141.5h3M1110 141.5h1M256 142.5h5M1109 142.5h1M261 143.5h4M1108 143.5h1M265 144.5h2M1107 144.5h1M267 145.5h3M1107 145.5h1M270 146.5h2M1106 146.5h1M272 147.5h3M1106 147.5h1M275 148.5h2M1106 148.5h1M277 149.5h3M1105 149.5h1M280 150.5h2M1105 150.5h1M282 151.5h2M1104 151.5h1M284 152.5h3M1103 152.5h1M287 153.5h2M1102 153.5h1M289 154.5h2M1101 154.5h1M291 155.5h4M1099 155.5h2M295 156.5h3M1098 156.5h1M298 157.5h10M1097 157.5h1M308 158.5h9M1096 158.5h1M317 159.5h44M1095 159.5h1M361 160.5h3M1094 160.5h1M364 161.5h3M1093 161.5h1M367 162.5h2M1092 162.5h1M369 163.5h3M1091 163.5h1M372 164.5h4M1090 164.5h1M376 165.5h5M1090 165.5h1M381 166.5h4M1089 166.5h1M385 167.5h4M1088 167.5h1M389 168.5h6M1087 168.5h1M395 169.5h6M1086 169.5h1M401 170.5h2M1085 170.5h1M403 171.5h3M1084 171.5h1M406 172.5h3M1083 172.5h1M409 173.5h2M1082 173.5h1M411 174.5h2M1081 174.5h1M413 175.5h2M1080 175.5h1M415 176.5h2M1079 176.5h1M417 177.5h1M1078 177.5h1M418 178.5h2M1077 178.5h1M420 179.5h1M1076 179.5h1M421 180.5h2M1075 180.5h1M423 181.5h1M1074 181.5h1M424 182.5h1M1073 182.5h1M425 183.5h2M1072 183.5h1M427 184.5h2M1072 184.5h1M429 185.5h2M1071 185.5h1M431 186.5h1M1070 186.5h1M432 187.5h2M1069 187.5h1M434 188.5h2M1068 188.5h1M436 189.5h2M1067 189.5h1M438 190.5h3M1066 190.5h1M441 191.5h3M1066 191.5h1M444 192.5h5M1065 192.5h1M449 193.5h3M1064 193.5h1M452 194.5h5M1063 194.5h1M457 195.5h4M1062 195.5h1M461 196.5h6M484 196.5h4M1061 196.5h1M467 197.5h17M488 197.5h1M1060 197.5h1M489 198.5h3M1059 198.5h1M492 199.5h1M1058 199.5h1M493 200.5h4M1058 200.5h1M497 201.5h3M1057 201.5h1M500 202.5h3M1056 202.5h1M503 203.5h1M1055 203.5h1M504 204.5h1M1054 204.5h1M505 205.5h1M1053 205.5h1M506 206.5h1M1051 206.5h2M507 207.5h1M1049 207.5h2M508 208.5h1M1047 208.5h2M509 209.5h1M1045 209.5h2M510 210.5h1M1043 210.5h2M511 211.5h1M1041 211.5h2M512 212.5h1M1039 212.5h2M513 213.5h1M1037 213.5h2M514 214.5h2M1035 214.5h2M516 215.5h1M1033 215.5h2M517 216.5h1M1030 216.5h3M518 217.5h1M1027 217.5h3M519 218.5h1M1023 218.5h4M520 219.5h1M1020 219.5h3M521 220.5h1M1014 220.5h6M521 221.5h1M1006 221.5h8M522 222.5h1M1000 222.5h6M523 223.5h1M996 223.5h4M524 224.5h1M992 224.5h4M524 225.5h1M988 225.5h4M525 226.5h1M985 226.5h3M526 227.5h1M981 227.5h4M527 228.5h2M978 228.5h3M529 229.5h1M976 229.5h2M530 230.5h1M925 230.5h15M974 230.5h2M531 231.5h1M922 231.5h3M940 231.5h4M971 231.5h3M532 232.5h1M920 232.5h2M944 232.5h2M970 232.5h1M533 233.5h1M916 233.5h4M946 233.5h3M967 233.5h3M534 234.5h1M913 234.5h3M949 234.5h4M966 234.5h1M535 235.5h1M909 235.5h4M953 235.5h3M962 235.5h4M535 236.5h1M906 236.5h3M956 236.5h6M536 237.5h1M903 237.5h3M537 238.5h1M900 238.5h3M538 239.5h1M898 239.5h2M539 240.5h1M896 240.5h2M539 241.5h1M894 241.5h2M540 242.5h1M892 242.5h2M541 243.5h1M891 243.5h1M542 244.5h1M889 244.5h2M542 245.5h1M887 245.5h2M543 246.5h1M885 246.5h2M543 247.5h1M881 247.5h4M544 248.5h1M878 248.5h3M544 249.5h1M870 249.5h8M545 250.5h1M862 250.5h8M545 251.5h1M860 251.5h2M546 252.5h1M858 252.5h2M546 253.5h1M856 253.5h2M547 254.5h1M852 254.5h4M547 255.5h1M848 255.5h4M547 256.5h1M844 256.5h4M548 257.5h1M840 257.5h4M548 258.5h1M836 258.5h4M549 259.5h1M834 259.5h2M549 260.5h1M831 260.5h3M550 261.5h1M829 261.5h2M550 262.5h1M826 262.5h3M551 263.5h1M824 263.5h2M551 264.5h1M821 264.5h3M552 265.5h1M818 265.5h3M552 266.5h1M816 266.5h2M553 267.5h1M812 267.5h4M553 268.5h1M809 268.5h3M554 269.5h1M804 269.5h5M555 270.5h1M801 270.5h3M555 271.5h1M798 271.5h3M556 272.5h1M796 272.5h2M556 273.5h1M794 273.5h2M557 274.5h1M792 274.5h2M557 275.5h1M790 275.5h2M558 276.5h1M789 276.5h1M558 277.5h1M787 277.5h2M559 278.5h1M785 278.5h2M559 279.5h1M783 279.5h2M560 280.5h1M782 280.5h1M560 281.5h1M781 281.5h1M561 282.5h1M780 282.5h1M561 283.5h1M778 283.5h2M562 284.5h1M777 284.5h1M562 285.5h1M776 285.5h1M563 286.5h1M775 286.5h1M563 287.5h1M774 287.5h1M564 288.5h1M773 288.5h1M564 289.5h1M772 289.5h1M565 290.5h1M771 290.5h1M565 291.5h1M770 291.5h1M565 292.5h1M769 292.5h1M566 293.5h1M768 293.5h1M567 294.5h1M767 294.5h1M567 295.5h1M766 295.5h1M567 296.5h1M765 296.5h1M568 297.5h1M764 297.5h1M569 298.5h1M762 298.5h2M569 299.5h1M761 299.5h1M569 300.5h1M760 300.5h1M570 301.5h1M759 301.5h1M571 302.5h1M757 302.5h2M571 303.5h1M756 303.5h1M571 304.5h1M755 304.5h1M572 305.5h1M753 305.5h2M573 306.5h1M751 306.5h2M573 307.5h1M749 307.5h2M573 308.5h1M747 308.5h2M574 309.5h1M745 309.5h2M574 310.5h1M743 310.5h2M575 311.5h1M741 311.5h2M575 312.5h1M739 312.5h2M576 313.5h1M737 313.5h2M576 314.5h1M736 314.5h1M576 315.5h1M734 315.5h2M577 316.5h1M732 316.5h2M577 317.5h1M730 317.5h2M578 318.5h1M729 318.5h1M578 319.5h1M727 319.5h2M578 320.5h1M725 320.5h2M579 321.5h1M723 321.5h2M579 322.5h1M721 322.5h2M580 323.5h1M720 323.5h1M580 324.5h1M719 324.5h1M580 325.5h1M718 325.5h1M581 326.5h1M717 326.5h1M582 327.5h1M716 327.5h1M582 328.5h1M714 328.5h2M582 329.5h1M713 329.5h1M583 330.5h1M712 330.5h1M583 331.5h1M711 331.5h1M584 332.5h1M710 332.5h1M584 333.5h1M709 333.5h1M585 334.5h1M708 334.5h1M585 335.5h1M707 335.5h1M586 336.5h1M706 336.5h1M586 337.5h1M705 337.5h1M587 338.5h1M704 338.5h1M587 339.5h1M703 339.5h1M587 340.5h1M702 340.5h1M588 341.5h1M701 341.5h1M588 342.5h1M700 342.5h1M589 343.5h1M699 343.5h1M589 344.5h1M698 344.5h1M590 345.5h1M697 345.5h1M590 346.5h1M696 346.5h1M590 347.5h1M695 347.5h1M591 348.5h1M694 348.5h1M592 349.5h1M693 349.5h1M592 350.5h1M692 350.5h1M592 351.5h1M691 351.5h1M593 352.5h1M690 352.5h1M594 353.5h1M689 353.5h1M594 354.5h1M688 354.5h1M594 355.5h1M687 355.5h1M595 356.5h1M686 356.5h1M596 357.5h1M686 357.5h1M596 358.5h1M685 358.5h1M596 359.5h1M684 359.5h1M597 360.5h1M683 360.5h1M598 361.5h1M682 361.5h1M599 362.5h1M681 362.5h1M600 363.5h1M680 363.5h1M601 364.5h1M679 364.5h1M602 365.5h1M678 365.5h1M603 366.5h1M677 366.5h1M604 367.5h1M676 367.5h1M605 368.5h1M674 368.5h2M606 369.5h1M672 369.5h2M607 370.5h1M670 370.5h2M608 371.5h1M668 371.5h2M609 372.5h1M666 372.5h2M610 373.5h1M664 373.5h2M611 374.5h1M662 374.5h2M612 375.5h1M660 375.5h2M612 376.5h1M659 376.5h1M613 377.5h1M657 377.5h2M614 378.5h3M655 378.5h2M617 379.5h3M652 379.5h3M620 380.5h23M648 380.5h4M643 381.5h5" fill="none" stroke="#ff0000" stroke-width="1"/>
<path d="M27 72.5h13M22 73.5h5M40 73.5h2M20 74.5h2M42 74.5h3M19 75.5h1M45 75.5h2M17 76.5h2M47 76.5h1M15 77.5h2M48 77.5h2M14 78.5h1M50 78.5h1M1125 78.5h2M12 79.5h2M51 79.5h1M1122 79.5h3M1127 79.5h1M11 80.5h1M52 80.5h2M1120 80.5h2M1128 80.5h1M9 81.5h2M54 81.5h1M1115 81.5h5M1129 81.5h1M7 82.5h2M55 82.5h2M1110 82.5h5M1130 82.5h2M6 83.5h1M57 83.5h1M1109 83.5h1M1132 83.5h1M58 84.5h1M1108 84.5h1M1133 84.5h1M59 85.5h1M1107 85.5h1M1134 85.5h1M59 86.5h1M1105 86.5h2M1135 86.5h2M60 87.5h1M1104 87.5h1M1137 87.5h2M61 88.5h1M1103 88.5h1M1139 88.5h1M62 89.5h1M1102 89.5h1M1140 89.5h2M63 90.5h1M1101 90.5h1M1142 90.5h1M64 91.5h1M1100 91.5h1M1143 91.5h1M64 92.5h1M1099 92.5h1M1144 92.5h1M65 93.5h1M1099 93.5h1M1144 93.5h1M66 94.5h1M1098 94.5h1M1145 94.5h1M67 95.5h1M1097 95.5h1M1146 95.5h1M68 96.5h1M1096 96.5h1M1147 96.5h1M69 97.5h2M1096 97.5h1M1148 97.5h1M71 98.5h1M1095 98.5h1M1148 98.5h1M72 99.5h1M1094 99.5h1M1149 99.5h1M73 100.5h1M1094 100.5h1M1150 100.5h1M74 101.5h2M1093 101.5h1M1151 101.5h1M76 102.5h2M121 102.5h12M1093 102.5h1M1152 102.5h2M78 103.5h1M113 103.5h8M133 103.5h7M1092 103.5h1M1154 103.5h1M79 104.5h2M109 104.5h4M140 104.5h2M1092 104.5h1M1155 104.5h2M81 105.5h1M106 105.5h3M142 105.5h3M1092 105.5h1M1157 105.5h1M1235 105.5h6M82 106.5h1M103 106.5h3M145 106.5h3M1091 106.5h1M1158 106.5h1M1220 106.5h15M1241 106.5h3M83 107.5h2M99 107.5h4M148 107.5h3M1091 107.5h1M1159 107.5h1M1217 107.5h3M1244 107.5h3M85 108.5h4M95 108.5h4M151 108.5h2M1091 108.5h1M1160 108.5h1M1213 108.5h4M1247 108.5h2M89 109.5h6M153 109.5h3M1090 109.5h1M1161 109.5h1M1212 109.5h1M1249 109.5h2M156 110.5h3M1090 110.5h1M1162 110.5h2M1209 110.5h3M1251 110.5h1M159 111.5h3M1089 111.5h1M1164 111.5h1M1208 111.5h1M1252 111.5h2M162 112.5h3M1089 112.5h1M1165 112.5h1M1187 112.5h8M1203 112.5h5M1254 112.5h5M165 113.5h4M1089 113.5h1M1166 113.5h21M1195 113.5h8M1259 113.5h4M169 114.5h3M1088 114.5h1M172 115.5h4M1088 115.5h1M176 116.5h3M1087 116.5h1M179 117.5h3M1087 117.5h1M182 118.5h2M1086 118.5h1M184 119.5h2M1086 119.5h1M186 120.5h2M1086 120.5h1M188 121.5h2M1085 121.5h1M190 122.5h1M1085 122.5h1M191 123.5h2M1084 123.5h1M193 124.5h2M1084 124.5h1M195 125.5h1M1083 125.5h1M196 126.5h2M1083 126.5h1M198 127.5h2M1082 127.5h1M200 128.5h1M1082 128.5h1M201 129.5h2M1082 129.5h1M203 130.5h1M1081 130.5h1M204 131.5h1M1081 131.5h1M205 132.5h2M1080 132.5h1M207 133.5h1M1080 133.5h1M208 134.5h1M1079 134.5h1M209 135.5h1M1079 135.5h1M210 136.5h2M1079 136.5h1M212 137.5h1M1078 137.5h1M213 138.5h1M1078 138.5h1M214 139.5h1M1077 139.5h1M215 140.5h1M1077 140.5h1M216 141.5h1M1076 141.5h1M217 142.5h2M1076 142.5h1M219 143.5h1M1075 143.5h1M220 144.5h1M1075 144.5h1M221 145.5h1M1075 145.5h1M222 146.5h1M1074 146.5h1M223 147.5h1M1074 147.5h1M224 148.5h1M1074 148.5h1M225 149.5h1M1073 149.5h1M226 150.5h2M1073 150.5h1M228 151.5h1M1072 151.5h1M229 152.5h1M1072 152.5h1M230 153.5h1M1072 153.5h1M231 154.5h2M1071 154.5h1M233 155.5h1M332 155.5h6M1070 155.5h1M234 156.5h3M329 156.5h3M338 156.5h6M1070 156.5h1M237 157.5h1M267 157.5h17M324 157.5h5M344 157.5h5M1070 157.5h1M238 158.5h3M261 158.5h6M284 158.5h5M321 158.5h3M349 158.5h4M1069 158.5h1M241 159.5h2M260 159.5h1M289 159.5h3M317 159.5h4M353 159.5h2M1068 159.5h1M243 160.5h2M257 160.5h3M292 160.5h3M313 160.5h4M355 160.5h2M1068 160.5h1M245 161.5h6M256 161.5h1M295 161.5h3M309 161.5h4M357 161.5h2M1067 161.5h1M251 162.5h5M298 162.5h4M306 162.5h3M359 162.5h2M1067 162.5h1M302 163.5h4M361 163.5h1M1066 163.5h1M362 164.5h1M1066 164.5h1M363 165.5h2M1065 165.5h1M365 166.5h1M1064 166.5h1M366 167.5h2M1064 167.5h1M368 168.5h2M1063 168.5h1M370 169.5h1M1063 169.5h1M371 170.5h2M1062 170.5h1M373 171.5h2M1061 171.5h1M375 172.5h1M1061 172.5h1M376 173.5h2M1060 173.5h1M378 174.5h1M1059 174.5h1M379 175.5h1M1058 175.5h1M380 176.5h2M1058 176.5h1M382 177.5h1M1057 177.5h1M383 178.5h2M1056 178.5h1M385 179.5h1M1055 179.5h1M386 180.5h2M1055 180.5h1M388 181.5h2M1054 181.5h1M390 182.5h2M1053 182.5h1M392 183.5h2M1051 183.5h2M394 184.5h3M485 184.5h2M1050 184.5h1M397 185.5h1M481 185.5h4M487 185.5h1M1048 185.5h2M398 186.5h3M479 186.5h2M488 186.5h1M1047 186.5h1M401 187.5h2M478 187.5h1M489 187.5h1M1046 187.5h1M403 188.5h2M476 188.5h2M490 188.5h1M1045 188.5h1M405 189.5h2M475 189.5h1M490 189.5h1M1044 189.5h1M407 190.5h2M474 190.5h1M491 190.5h1M1042 190.5h2M409 191.5h2M472 191.5h2M492 191.5h1M1041 191.5h1M411 192.5h2M471 192.5h1M493 192.5h1M1040 192.5h1M413 193.5h2M470 193.5h1M494 193.5h2M1039 193.5h1M415 194.5h1M469 194.5h1M496 194.5h1M1038 194.5h1M415 195.5h1M468 195.5h1M497 195.5h3M1037 195.5h1M416 196.5h1M467 196.5h1M500 196.5h1M1036 196.5h1M417 197.5h1M466 197.5h1M501 197.5h2M1035 197.5h1M418 198.5h1M465 198.5h1M502 198.5h1M1034 198.5h1M418 199.5h1M464 199.5h1M503 199.5h1M1033 199.5h1M419 200.5h1M463 200.5h1M503 200.5h1M1032 200.5h1M420 201.5h1M462 201.5h1M504 201.5h1M1031 201.5h1M421 202.5h1M461 202.5h1M504 202.5h1M1028 202.5h3M421 203.5h1M460 203.5h1M505 203.5h1M1025 203.5h3M422 204.5h1M459 204.5h1M505 204.5h1M1021 204.5h4M423 205.5h2M458 205.5h1M506 205.5h1M1018 205.5h3M425 206.5h1M457 206.5h1M506 206.5h1M1004 206.5h7M1016 206.5h2M426 207.5h2M456 207.5h1M507 207.5h1M1001 207.5h3M1011 207.5h5M428 208.5h1M455 208.5h1M507 208.5h1M998 208.5h3M429 209.5h2M452 209.5h3M507 209.5h1M997 209.5h1M431 210.5h1M449 210.5h3M508 210.5h1M995 210.5h2M432 211.5h2M445 211.5h4M508 211.5h1M994 211.5h1M434 212.5h2M442 212.5h3M508 212.5h1M992 212.5h2M436 213.5h2M440 213.5h2M509 213.5h1M991 213.5h1M438 214.5h2M509 214.5h1M990 214.5h1M509 215.5h1M989 215.5h1M509 216.5h1M988 216.5h1M510 217.5h1M988 217.5h1M510 218.5h1M987 218.5h1M510 219.5h1M986 219.5h1M510 220.5h1M926 220.5h3M985 220.5h1M511 221.5h1M925 221.5h1M929 221.5h3M984 221.5h1M511 222.5h1M923 222.5h2M932 222.5h3M984 222.5h1M511 223.5h1M922 223.5h1M935 223.5h1M983 223.5h1M511 224.5h1M920 224.5h2M936 224.5h1M982 224.5h1M512 225.5h1M919 225.5h1M937 225.5h1M981 225.5h1M512 226.5h1M915 226.5h4M938 226.5h1M980 226.5h1M512 227.5h1M852 227.5h4M910 227.5h5M939 227.5h1M979 227.5h1M512 228.5h1M849 228.5h3M856 228.5h2M909 228.5h1M940 228.5h1M978 228.5h1M513 229.5h1M846 229.5h3M858 229.5h3M907 229.5h2M941 229.5h1M978 229.5h1M513 230.5h1M845 230.5h1M861 230.5h2M906 230.5h1M942 230.5h1M977 230.5h1M513 231.5h1M843 231.5h2M863 231.5h2M904 231.5h2M943 231.5h1M976 231.5h1M513 232.5h1M842 232.5h1M865 232.5h2M903 232.5h1M944 232.5h1M975 232.5h1M514 233.5h1M841 233.5h1M867 233.5h1M902 233.5h1M945 233.5h1M974 233.5h1M514 234.5h1M840 234.5h1M868 234.5h2M901 234.5h1M946 234.5h2M973 234.5h1M514 235.5h1M839 235.5h1M870 235.5h2M900 235.5h1M948 235.5h1M972 235.5h1M514 236.5h1M838 236.5h1M872 236.5h2M898 236.5h2M949 236.5h1M970 236.5h2M515 237.5h1M837 237.5h1M874 237.5h3M897 237.5h1M950 237.5h2M969 237.5h1M515 238.5h1M836 238.5h1M877 238.5h2M896 238.5h1M952 238.5h2M968 238.5h1M516 239.5h1M836 239.5h1M879 239.5h1M895 239.5h1M954 239.5h3M967 239.5h1M516 240.5h1M835 240.5h1M880 240.5h1M894 240.5h1M957 240.5h10M516 241.5h1M834 241.5h1M881 241.5h1M893 241.5h1M516 242.5h1M833 242.5h1M882 242.5h1M891 242.5h2M517 243.5h1M832 243.5h1M883 243.5h1M890 243.5h1M517 244.5h1M831 244.5h1M884 244.5h1M888 244.5h2M517 245.5h1M831 245.5h1M885 245.5h1M887 245.5h1M517 246.5h1M830 246.5h1M886 246.5h1M518 247.5h1M830 247.5h1M518 248.5h1M829 248.5h1M518 249.5h1M828 249.5h1M518 250.5h1M828 250.5h1M518 251.5h1M827 251.5h1M519 252.5h1M826 252.5h1M519 253.5h1M826 253.5h1M519 254.5h1M825 254.5h1M519 255.5h1M825 255.5h1M520 256.5h1M824 256.5h1M520 257.5h1M823 257.5h1M520 258.5h1M822 258.5h1M520 259.5h1M822 259.5h1M521 260.5h1M821 260.5h1M521 261.5h1M820 261.5h1M521 262.5h1M820 262.5h1M521 263.5h1M819 263.5h1M522 264.5h1M739 264.5h5M818 264.5h1M522 265.5h1M734 265.5h5M744 265.5h2M817 265.5h1M522 266.5h1M733 266.5h1M746 266.5h3M755 266.5h8M816 266.5h1M522 267.5h1M733 267.5h1M749 267.5h6M763 267.5h5M816 267.5h1M523 268.5h1M732 268.5h1M768 268.5h2M804 268.5h7M815 268.5h1M523 269.5h1M731 269.5h1M770 269.5h3M801 269.5h3M811 269.5h4M523 270.5h1M731 270.5h1M773 270.5h3M796 270.5h5M523 271.5h1M730 271.5h1M776 271.5h2M793 271.5h3M524 272.5h1M729 272.5h1M778 272.5h3M787 272.5h6M524 273.5h1M728 273.5h1M781 273.5h6M524 274.5h1M728 274.5h1M525 275.5h1M727 275.5h1M525 276.5h1M726 276.5h1M525 277.5h1M726 277.5h1M525 278.5h1M725 278.5h1M526 279.5h1M724 279.5h1M526 280.5h1M724 280.5h1M526 281.5h1M723 281.5h1M527 282.5h1M722 282.5h1M527 283.5h1M722 283.5h1M528 284.5h1M721 284.5h1M528 285.5h1M720 285.5h1M528 286.5h1M719 286.5h1M529 287.5h1M719 287.5h1M529 288.5h1M718 288.5h1M530 289.5h1M717 289.5h1M530 290.5h1M717 290.5h1M530 291.5h1M716 291.5h1M531 292.5h1M716 292.5h1M531 293.5h1M715 293.5h1M531 294.5h1M715 294.5h1M532 295.5h1M714 295.5h1M532 296.5h1M714 296.5h1M533 297.5h1M713 297.5h1M533 298.5h1M713 298.5h1M533 299.5h1M712 299.5h1M534 300.5h1M712 300.5h1M534 301.5h1M711 301.5h1M534 302.5h1M711 302.5h1M534 303.5h1M710 303.5h1M535 304.5h1M710 304.5h1M535 305.5h1M709 305.5h1M535 306.5h1M709 306.5h1M535 307.5h1M708 307.5h1M536 308.5h1M708 308.5h1M536 309.5h1M707 309.5h1M536 310.5h1M707 310.5h1M536 311.5h1M706 311.5h1M537 312.5h1M706 312.5h1M537 313.5h1M706 313.5h1M537 314.5h1M705 314.5h1M538 315.5h1M705 315.5h1M538 316.5h1M704 316.5h1M539 317.5h1M704 317.5h1M539 318.5h1M704 318.5h1M539 319.5h1M703 319.5h1M539 320.5h1M703 320.5h1M540 321.5h1M703 321.5h1M540 322.5h1M702 322.5h1M540 323.5h1M702 323.5h1M540 324.5h1M702 324.5h1M541 325.5h1M701 325.5h1M541 326.5h1M701 326.5h1M541 327.5h1M700 327.5h1M541 328.5h1M700 328.5h1M542 329.5h1M700 329.5h1M542 330.5h1M699 330.5h1M542 331.5h1M645 331.5h2M699 331.5h1M542 332.5h1M643 332.5h2M647 332.5h2M698 332.5h1M543 333.5h1M641 333.5h2M649 333.5h2M698 333.5h1M543 334.5h1M639 334.5h2M651 334.5h2M698 334.5h1M543 335.5h1M638 335.5h1M653 335.5h2M697 335.5h1M543 336.5h1M637 336.5h1M655 336.5h1M697 336.5h1M544 337.5h1M637 337.5h1M655 337.5h1M697 337.5h1M544 338.5h1M636 338.5h1M656 338.5h1M696 338.5h1M544 339.5h1M635 339.5h1M657 339.5h1M696 339.5h1M545 340.5h1M635 340.5h1M657 340.5h1M696 340.5h1M545 341.5h1M634 341.5h1M658 341.5h1M695 341.5h1M545 342.5h1M633 342.5h1M658 342.5h1M695 342.5h1M546 343.5h1M632 343.5h1M659 343.5h1M694 343.5h1M546 344.5h1M632 344.5h1M660 344.5h1M694 344.5h1M546 345.5h1M631 345.5h1M660 345.5h1M693 345.5h1M547 346.5h1M630 346.5h1M661 346.5h1M692 346.5h1M547 347.5h1M630 347.5h1M662 347.5h1M692 347.5h1M547 348.5h1M629 348.5h1M663 348.5h1M691 348.5h1M547 349.5h1M628 349.5h1M663 349.5h1M690 349.5h1M548 350.5h1M628 350.5h1M664 350.5h1M689 350.5h1M548 351.5h1M627 351.5h1M665 351.5h1M688 351.5h1M548 352.5h1M627 352.5h1M666 352.5h1M687 352.5h1M549 353.5h1M626 353.5h1M667 353.5h1M687 353.5h1M549 354.5h1M626 354.5h1M667 354.5h1M686 354.5h1M549 355.5h1M625 355.5h1M668 355.5h1M684 355.5h2M550 356.5h1M624 356.5h1M669 356.5h3M681 356.5h3M550 357.5h1M624 357.5h1M672 357.5h3M679 357.5h2M550 358.5h1M623 358.5h1M675 358.5h4M551 359.5h1M623 359.5h1M551 360.5h1M622 360.5h1M551 361.5h1M622 361.5h1M552 362.5h1M621 362.5h1M552 363.5h1M621 363.5h1M553 364.5h1M621 364.5h1M553 365.5h1M620 365.5h1M553 366.5h1M620 366.5h1M554 367.5h1M620 367.5h1M554 368.5h1M619 368.5h1M554 369.5h1M619 369.5h1M555 370.5h1M619 370.5h1M555 371.5h1M619 371.5h1M556 372.5h1M618 372.5h1M556 373.5h1M618 373.5h1M556 374.5h1M618 374.5h1M557 375.5h1M617 375.5h1M557 376.5h1M617 376.5h1M557 377.5h1M617 377.5h1M558 378.5h1M616 378.5h1M558 379.5h1M616 379.5h1M559 380.5h1M616 380.5h1M559 381.5h1M615 381.5h1M560 382.5h1M615 382.5h1M560 383.5h1M615 383.5h1M561 384.5h1M614 384.5h1M561 385.5h1M614 385.5h1M561 386.5h1M613 386.5h1M562 387.5h1M613 387.5h1M562 388.5h1M613 388.5h1M563 389.5h1M612 389.5h1M563 390.5h1M612 390.5h1M564 391.5h1M612 391.5h1M564 392.5h1M611 392.5h1M565 393.5h1M611 393.5h1M565 394.5h1M611 394.5h1M566 395.5h1M610 395.5h1M566 396.5h1M610 396.5h1M566 397.5h1M610 397.5h1M567 398.5h1M610 398.5h1M567 399.5h1M609 399.5h1M568 400.5h1M609 400.5h1M568 401.5h1M609 401.5h1M568 402.5h1M608 402.5h1M569 403.5h1M608 403.5h1M569 404.5h1M607 404.5h1M569 405.5h1M606 405.5h1M570 406.5h1M606 406.5h1M570 407.5h1M605 407.5h1M571 408.5h1M604 408.5h1M571 409.5h1M603 409.5h1M571 410.5h1M602 410.5h1M572 411.5h1M601 411.5h1M572 412.5h1M601 412.5h1M572 413.5h1M600 413.5h1M573 414.5h1M599 414.5h1M573 415.5h1M598 415.5h1M574 416.5h1M597 416.5h1M574 417.5h1M596 417.5h1M575 418.5h1M595 418.5h1M575 419.5h1M595 419.5h1M576 420.5h1M594 420.5h1M577 421.5h1M593 421.5h1M577 422.5h1M592 422.5h1M578 423.5h1M591 423.5h1M579 424.5h1M589 424.5h2M579 425.5h1M588 425.5h1M580 426.5h1M586 426.5h2M581 427.5h1M585 427.5h1M581 428.5h1M583 428.5h2M582 429.5h1" fill="none" stroke="#ffa500" stroke-width="1"/>
</g>
<g shape-rendering="crispEdges">
<rect x="6" y="71" width="1594" height="2" fill="#ff0000"/>
<rect x="6" y="101" width="1594" height="2" fill="#ff0000"/>
<rect x="6" y="131" width="1594" height="2" fill="#00ff00"/>
<rect x="6" y="170" width="1594" height="2" fill="#0000ff"/>
<rect x="6" y="221" width="1594" height="2" fill="#0000ff"/>
<rect x="1598" y="71" width="2" height="2" fill="#ff0000"/>
<rect x="1598" y="101" width="2" height="2" fill="#ff0000"/>
<rect x="1598" y="131" width="2" height="2" fill="#00ff00"/>
<rect x="1598" y="170" width="2" height="2" fill="#0000ff"/>
<rect x="1598" y="221" width="2" height="2" fill="#0000ff"/>
<rect x="5" y="129" width="6" height="6" fill="#00ff00"/>
<rect x="7" y="131" width="2" height="2" fill="#fff"/>
<rect x="1592" y="129" width="6" height="6" fill="#00ff00"/>
<rect x="1594" y="131" width="2" height="2" fill="#fff"/>
<rect x="5" y="219" width="6" height="6" fill="#0000ff"/>
<rect x="7" y="221" width="2" height="2" fill="#fff"/>
<rect x="1592" y="219" width="6" height="6" fill="#0000ff"/>
<rect x="1594" y="221" width="2" height="2" fill="#fff"/>
</g>
<path d="M1273.5 29 H1282.5 L1278 33.5Z" fill="#c0c0c0"/>
<g shape-rendering="crispEdges">
<rect x="9" y="35" width="7" height="1" fill="#000"/>
<rect x="10" y="36" width="5" height="1" fill="#000"/>
<rect x="11" y="37" width="3" height="1" fill="#000"/>
<rect x="12" y="38" width="1" height="1" fill="#000"/>
</g>
<text x="21.6" y="40" font-size="10.2" fill="#000" stroke="#000" stroke-width="0.12" textLength="65.4" lengthAdjust="spacingAndGlyphs">AUDUSD,Daily</text>
<text x="93" y="40" font-size="10.2" fill="#000" stroke="#000" stroke-width="0.12" textLength="32.8" lengthAdjust="spacingAndGlyphs">0.68492</text>
<text x="129" y="40" font-size="10.2" fill="#000" stroke="#000" stroke-width="0.12" textLength="32.8" lengthAdjust="spacingAndGlyphs">0.68763</text>
<text x="165" y="40" font-size="10.2" fill="#000" stroke="#000" stroke-width="0.12" textLength="32.8" lengthAdjust="spacingAndGlyphs">0.68484</text>
<text x="201" y="40" font-size="10.2" fill="#000" stroke="#000" stroke-width="0.12" textLength="32.8" lengthAdjust="spacingAndGlyphs">0.68683</text>
<rect x="1599" y="36" width="2" height="1" fill="#000" shape-rendering="crispEdges"/>
<text x="1604.0" y="40" font-size="10.2" fill="#000" stroke="#000" stroke-width="0.12" textLength="32.8" lengthAdjust="spacingAndGlyphs">0.71190</text>
<rect x="1599" y="69" width="2" height="1" fill="#000" shape-rendering="crispEdges"/>
<text x="1604.0" y="73" font-size="10.2" fill="#000" stroke="#000" stroke-width="0.12" textLength="32.8" lengthAdjust="spacingAndGlyphs">0.70100</text>
<rect x="1599" y="102" width="2" height="1" fill="#000" shape-rendering="crispEdges"/>
<text x="1604.0" y="106" font-size="10.2" fill="#000" stroke="#000" stroke-width="0.12" textLength="32.8" lengthAdjust="spacingAndGlyphs">0.69010</text>
<rect x="1599" y="135" width="2" height="1" fill="#000" shape-rendering="crispEdges"/>
<text x="1604.0" y="139" font-size="10.2" fill="#000" stroke="#000" stroke-width="0.12" textLength="32.8" lengthAdjust="spacingAndGlyphs">0.67920</text>
<rect x="1599" y="168" width="2" height="1" fill="#000" shape-rendering="crispEdges"/>
<text x="1604.0" y="172" font-size="10.2" fill="#000" stroke="#000" stroke-width="0.12" textLength="32.8" lengthAdjust="spacingAndGlyphs">0.66830</text>
<rect x="1599" y="201" width="2" height="1" fill="#000" shape-rendering="crispEdges"/>
<text x="1604.0" y="205" font-size="10.2" fill="#000" stroke="#000" stroke-width="0.12" textLength="32.8" lengthAdjust="spacingAndGlyphs">0.65730</text>
<rect x="1599" y="234" width="2" height="1" fill="#000" shape-rendering="crispEdges"/>
<text x="1604.0" y="238" font-size="10.2" fill="#000" stroke="#000" stroke-width="0.12" textLength="32.8" lengthAdjust="spacingAndGlyphs">0.64620</text>
<rect x="1599" y="267" width="2" height="1" fill="#000" shape-rendering="crispEdges"/>
<text x="1604.0" y="271" font-size="10.2" fill="#000" stroke="#000" stroke-width="0.12" textLength="32.8" lengthAdjust="spacingAndGlyphs">0.63540</text>
<rect x="1599" y="300" width="2" height="1" fill="#000" shape-rendering="crispEdges"/>
<text x="1604.0" y="304" font-size="10.2" fill="#000" stroke="#000" stroke-width="0.12" textLength="32.8" lengthAdjust="spacingAndGlyphs">0.62430</text>
<rect x="1599" y="333" width="2" height="1" fill="#000" shape-rendering="crispEdges"/>
<text x="1604.0" y="337" font-size="10.2" fill="#000" stroke="#000" stroke-width="0.12" textLength="32.8" lengthAdjust="spacingAndGlyphs">0.61350</text>
<rect x="1599" y="366" width="2" height="1" fill="#000" shape-rendering="crispEdges"/>
<text x="1604.0" y="370" font-size="10.2" fill="#000" stroke="#000" stroke-width="0.12" textLength="32.8" lengthAdjust="spacingAndGlyphs">0.60240</text>
<rect x="1599" y="399" width="2" height="1" fill="#000" shape-rendering="crispEdges"/>
<text x="1604.0" y="403" font-size="10.2" fill="#000" stroke="#000" stroke-width="0.12" textLength="32.8" lengthAdjust="spacingAndGlyphs">0.59160</text>
<rect x="1599" y="432" width="2" height="1" fill="#000" shape-rendering="crispEdges"/>
<text x="1604.0" y="436" font-size="10.2" fill="#000" stroke="#000" stroke-width="0.12" textLength="32.8" lengthAdjust="spacingAndGlyphs">0.58050</text>
<rect x="1599" y="465" width="2" height="1" fill="#000" shape-rendering="crispEdges"/>
<text x="1604.0" y="469" font-size="10.2" fill="#000" stroke="#000" stroke-width="0.12" textLength="32.8" lengthAdjust="spacingAndGlyphs">0.56970</text>
<rect x="1599" y="498" width="2" height="1" fill="#000" shape-rendering="crispEdges"/>
<text x="1604.0" y="502" font-size="10.2" fill="#000" stroke="#000" stroke-width="0.12" textLength="32.8" lengthAdjust="spacingAndGlyphs">0.55860</text>
<rect x="1599" y="531" width="2" height="1" fill="#000" shape-rendering="crispEdges"/>
<text x="1604.0" y="535" font-size="10.2" fill="#000" stroke="#000" stroke-width="0.12" textLength="32.8" lengthAdjust="spacingAndGlyphs">0.54780</text>
<rect x="1600" y="66" width="39" height="11" fill="#ff0000" shape-rendering="crispEdges"/>
<text x="1604.0" y="75" font-size="10.2" fill="#fff" stroke="#fff" stroke-width="0" textLength="32.8" lengthAdjust="spacingAndGlyphs">0.70007</text>
<rect x="1600" y="96" width="39" height="11" fill="#ff0000" shape-rendering="crispEdges"/>
<text x="1604.0" y="105" font-size="10.2" fill="#fff" stroke="#fff" stroke-width="0" textLength="32.8" lengthAdjust="spacingAndGlyphs">0.69010</text>
<rect x="1600" y="107" width="39" height="11" fill="#000" shape-rendering="crispEdges"/>
<text x="1604.0" y="116" font-size="10.2" fill="#fff" stroke="#fff" stroke-width="0" textLength="32.8" lengthAdjust="spacingAndGlyphs">0.68683</text>
<rect x="1600" y="126" width="39" height="11" fill="#00ff00" shape-rendering="crispEdges"/>
<text x="1604.0" y="135" font-size="10.2" fill="#fff" stroke="#fff" stroke-width="0" textLength="32.8" lengthAdjust="spacingAndGlyphs">0.68017</text>
<rect x="1600" y="165" width="39" height="11" fill="#0000ff" shape-rendering="crispEdges"/>
<text x="1604.0" y="174" font-size="10.2" fill="#fff" stroke="#fff" stroke-width="0" textLength="32.8" lengthAdjust="spacingAndGlyphs">0.66706</text>
<rect x="1600" y="216" width="39" height="11" fill="#0000ff" shape-rendering="crispEdges"/>
<text x="1604.0" y="225" font-size="10.2" fill="#fff" stroke="#fff" stroke-width="0" textLength="32.8" lengthAdjust="spacingAndGlyphs">0.65020</text>
<g shape-rendering="crispEdges">
<line x1="7" y1="564.5" x2="1598" y2="564.5" stroke="#c0c0c0" stroke-width="1" stroke-dasharray="3 3"/>
<line x1="7" y1="600.5" x2="1598" y2="600.5" stroke="#c0c0c0" stroke-width="1" stroke-dasharray="3 3"/>
<path d="M1090 558.5h6M1076 559.5h14M1096 559.5h4M1107 559.5h5M13 560.5h3M1074 560.5h2M1100 560.5h7M1112 560.5h2M1124 560.5h3M10 561.5h3M16 561.5h2M1072 561.5h2M1114 561.5h3M1121 561.5h3M1127 561.5h1M8 562.5h2M18 562.5h3M1069 562.5h3M1117 562.5h4M1127 562.5h1M6 563.5h2M21 563.5h3M1066 563.5h3M1128 563.5h1M24 564.5h2M1064 564.5h2M1129 564.5h1M26 565.5h3M1062 565.5h2M1129 565.5h1M29 566.5h2M1061 566.5h1M1130 566.5h1M31 567.5h1M837 567.5h4M1059 567.5h2M1131 567.5h1M32 568.5h1M833 568.5h4M841 568.5h3M1058 568.5h1M1131 568.5h1M32 569.5h1M732 569.5h3M829 569.5h4M844 569.5h3M1022 569.5h1M1056 569.5h2M1132 569.5h1M33 570.5h1M729 570.5h3M735 570.5h1M826 570.5h3M847 570.5h1M980 570.5h4M1021 570.5h1M1023 570.5h2M1037 570.5h4M1055 570.5h1M1133 570.5h1M1213 570.5h2M34 571.5h1M723 571.5h6M736 571.5h1M823 571.5h3M848 571.5h1M900 571.5h7M977 571.5h3M984 571.5h1M1019 571.5h2M1025 571.5h2M1036 571.5h1M1041 571.5h3M1051 571.5h4M1133 571.5h1M1210 571.5h3M1215 571.5h1M35 572.5h1M715 572.5h8M737 572.5h1M821 572.5h2M849 572.5h1M897 572.5h3M907 572.5h4M973 572.5h4M985 572.5h3M1018 572.5h1M1027 572.5h1M1033 572.5h3M1044 572.5h7M1134 572.5h2M1170 572.5h4M1208 572.5h2M1216 572.5h1M36 573.5h1M707 573.5h8M738 573.5h2M772 573.5h3M819 573.5h2M850 573.5h1M894 573.5h3M911 573.5h2M969 573.5h4M988 573.5h1M1016 573.5h2M1028 573.5h2M1032 573.5h1M1136 573.5h2M1164 573.5h6M1174 573.5h2M1205 573.5h3M1217 573.5h1M36 574.5h1M701 574.5h6M740 574.5h1M769 574.5h3M775 574.5h1M817 574.5h2M851 574.5h1M893 574.5h1M913 574.5h2M967 574.5h2M989 574.5h3M1015 574.5h1M1030 574.5h2M1138 574.5h3M1161 574.5h3M1176 574.5h2M1204 574.5h1M1218 574.5h1M37 575.5h1M698 575.5h3M741 575.5h1M757 575.5h12M776 575.5h1M797 575.5h6M815 575.5h2M852 575.5h1M877 575.5h3M891 575.5h2M915 575.5h1M924 575.5h3M966 575.5h1M992 575.5h2M1011 575.5h4M1141 575.5h6M1155 575.5h6M1178 575.5h2M1201 575.5h3M1219 575.5h1M38 576.5h10M696 576.5h2M742 576.5h3M754 576.5h3M777 576.5h1M796 576.5h1M803 576.5h12M853 576.5h1M874 576.5h3M880 576.5h1M890 576.5h1M916 576.5h2M920 576.5h4M927 576.5h2M965 576.5h1M994 576.5h3M1003 576.5h8M1147 576.5h8M1180 576.5h2M1200 576.5h1M1220 576.5h1M48 577.5h1M693 577.5h3M745 577.5h3M752 577.5h2M778 577.5h1M793 577.5h3M854 577.5h5M872 577.5h2M881 577.5h3M888 577.5h2M918 577.5h2M929 577.5h3M964 577.5h1M997 577.5h6M1182 577.5h18M1221 577.5h1M49 578.5h3M690 578.5h3M748 578.5h4M779 578.5h1M792 578.5h1M859 578.5h13M884 578.5h1M887 578.5h1M932 578.5h2M963 578.5h1M1222 578.5h13M1259 578.5h3M52 579.5h1M688 579.5h2M780 579.5h1M788 579.5h4M885 579.5h2M934 579.5h3M962 579.5h1M1235 579.5h16M1255 579.5h4M53 580.5h2M686 580.5h2M781 580.5h1M785 580.5h3M937 580.5h2M960 580.5h2M1251 580.5h4M55 581.5h1M484 581.5h3M685 581.5h1M782 581.5h3M939 581.5h3M959 581.5h1M56 582.5h1M481 582.5h3M486 582.5h1M683 582.5h2M942 582.5h5M955 582.5h4M56 583.5h1M86 583.5h22M114 583.5h6M475 583.5h6M487 583.5h1M622 583.5h4M682 583.5h1M947 583.5h8M57 584.5h1M85 584.5h1M108 584.5h6M120 584.5h3M469 584.5h6M488 584.5h1M619 584.5h3M626 584.5h3M680 584.5h2M58 585.5h1M84 585.5h1M123 585.5h4M446 585.5h11M466 585.5h3M488 585.5h1M617 585.5h2M629 585.5h7M679 585.5h1M59 586.5h1M83 586.5h1M127 586.5h2M445 586.5h1M457 586.5h3M464 586.5h2M488 586.5h1M615 586.5h2M636 586.5h6M678 586.5h1M60 587.5h1M82 587.5h1M129 587.5h3M311 587.5h3M445 587.5h1M460 587.5h4M489 587.5h1M613 587.5h2M642 587.5h4M677 587.5h1M60 588.5h1M82 588.5h1M132 588.5h13M309 588.5h2M314 588.5h4M444 588.5h1M490 588.5h1M611 588.5h2M646 588.5h3M675 588.5h2M61 589.5h1M81 589.5h1M145 589.5h3M308 589.5h1M318 589.5h4M444 589.5h1M490 589.5h1M609 589.5h2M649 589.5h4M674 589.5h1M62 590.5h3M80 590.5h1M148 590.5h7M306 590.5h2M322 590.5h3M443 590.5h1M490 590.5h1M607 590.5h2M653 590.5h4M672 590.5h2M65 591.5h3M79 591.5h1M155 591.5h6M304 591.5h2M325 591.5h6M339 591.5h5M443 591.5h1M491 591.5h1M606 591.5h1M657 591.5h3M671 591.5h1M68 592.5h11M161 592.5h1M173 592.5h3M303 592.5h1M331 592.5h8M344 592.5h2M442 592.5h1M492 592.5h1M502 592.5h1M605 592.5h1M660 592.5h11M162 593.5h3M171 593.5h2M176 593.5h2M302 593.5h1M346 593.5h3M441 593.5h1M492 593.5h1M500 593.5h2M503 593.5h1M603 593.5h2M165 594.5h1M169 594.5h2M178 594.5h2M301 594.5h1M349 594.5h3M441 594.5h1M492 594.5h1M499 594.5h1M503 594.5h1M602 594.5h1M166 595.5h3M180 595.5h2M261 595.5h6M301 595.5h1M352 595.5h2M440 595.5h1M493 595.5h1M497 595.5h2M504 595.5h1M600 595.5h2M182 596.5h9M260 596.5h1M267 596.5h4M300 596.5h1M354 596.5h3M440 596.5h1M494 596.5h3M505 596.5h1M599 596.5h1M191 597.5h1M257 597.5h3M271 597.5h1M299 597.5h1M357 597.5h2M439 597.5h1M494 597.5h1M506 597.5h1M596 597.5h3M192 598.5h1M256 598.5h1M272 598.5h2M298 598.5h1M359 598.5h1M439 598.5h1M506 598.5h1M593 598.5h3M193 599.5h1M254 599.5h2M274 599.5h1M297 599.5h1M360 599.5h2M430 599.5h9M507 599.5h1M590 599.5h3M194 600.5h1M253 600.5h1M275 600.5h2M297 600.5h1M362 600.5h1M429 600.5h1M508 600.5h1M589 600.5h1M195 601.5h1M252 601.5h1M277 601.5h1M296 601.5h1M363 601.5h2M372 601.5h13M429 601.5h1M509 601.5h1M589 601.5h1M196 602.5h1M252 602.5h1M278 602.5h4M291 602.5h5M365 602.5h1M369 602.5h3M385 602.5h3M428 602.5h1M509 602.5h1M588 602.5h1M197 603.5h1M251 603.5h1M282 603.5h9M366 603.5h3M388 603.5h5M414 603.5h1M427 603.5h1M510 603.5h2M587 603.5h1M198 604.5h5M250 604.5h1M393 604.5h3M413 604.5h1M415 604.5h1M427 604.5h1M512 604.5h1M587 604.5h1M203 605.5h7M249 605.5h1M396 605.5h4M411 605.5h2M416 605.5h1M426 605.5h1M513 605.5h3M586 605.5h1M210 606.5h6M248 606.5h1M400 606.5h1M410 606.5h1M417 606.5h1M425 606.5h1M516 606.5h1M585 606.5h1M216 607.5h2M248 607.5h1M401 607.5h3M408 607.5h2M418 607.5h1M425 607.5h1M517 607.5h16M585 607.5h1M218 608.5h3M247 608.5h1M404 608.5h1M407 608.5h1M419 608.5h1M424 608.5h1M533 608.5h4M584 608.5h1M221 609.5h6M235 609.5h12M405 609.5h2M420 609.5h1M423 609.5h1M537 609.5h2M584 609.5h1M227 610.5h8M421 610.5h1M423 610.5h1M539 610.5h2M583 610.5h1M422 611.5h1M541 611.5h3M582 611.5h1M544 612.5h2M556 612.5h23M582 612.5h1M546 613.5h3M552 613.5h4M579 613.5h3M549 614.5h3" fill="none" stroke="#1e90ff" stroke-width="1"/>
<rect x="1599" y="564" width="2" height="1" fill="#000"/>
<rect x="1599" y="600" width="2" height="1" fill="#000"/>
<rect x="1599" y="536" width="1" height="1" fill="#000"/>
<rect x="1599" y="628" width="1" height="1" fill="#000"/>
<rect x="1599" y="630" width="1" height="1" fill="#000"/>
<rect x="1599" y="722" width="1" height="1" fill="#000"/>
</g>
<text x="10" y="549" font-size="10.2" fill="#000" stroke="#000" stroke-width="0.12" textLength="32" lengthAdjust="spacingAndGlyphs">RSI(14)</text>
<text x="45" y="549" font-size="10.2" fill="#000" stroke="#000" stroke-width="0.12" textLength="33" lengthAdjust="spacingAndGlyphs">54.6557</text>
<text x="1601.7" y="547" font-size="10.2" fill="#000" stroke="#000" stroke-width="0.12" textLength="15.4" lengthAdjust="spacingAndGlyphs">100</text>
<text x="1601.4" y="568" font-size="10.2" fill="#000" stroke="#000" stroke-width="0.12" textLength="10" lengthAdjust="spacingAndGlyphs">70</text>
<text x="1601.4" y="604" font-size="10.2" fill="#000" stroke="#000" stroke-width="0.12" textLength="10" lengthAdjust="spacingAndGlyphs">30</text>
<text x="1601.7" y="625" font-size="10.2" fill="#000" stroke="#000" stroke-width="0.12" textLength="5" lengthAdjust="spacingAndGlyphs">0</text>
<g shape-rendering="crispEdges">
<rect x="6" y="660" width="1" height="8" fill="#c0c0c0"/>
<rect x="14" y="659" width="1" height="9" fill="#c0c0c0"/>
<rect x="22" y="658" width="1" height="10" fill="#c0c0c0"/>
<rect x="30" y="658" width="1" height="10" fill="#c0c0c0"/>
<rect x="38" y="658" width="1" height="10" fill="#c0c0c0"/>
<rect x="46" y="658" width="1" height="10" fill="#c0c0c0"/>
<rect x="54" y="659" width="1" height="9" fill="#c0c0c0"/>
<rect x="62" y="663" width="1" height="5" fill="#c0c0c0"/>
<rect x="70" y="664" width="1" height="4" fill="#c0c0c0"/>
<rect x="78" y="666" width="1" height="2" fill="#c0c0c0"/>
<rect x="86" y="666" width="1" height="2" fill="#c0c0c0"/>
<rect x="94" y="667" width="1" height="1" fill="#c0c0c0"/>
<rect x="102" y="667" width="1" height="1" fill="#c0c0c0"/>
<rect x="110" y="667" width="1" height="1" fill="#c0c0c0"/>
<rect x="118" y="667" width="1" height="1" fill="#c0c0c0"/>
<rect x="126" y="667" width="1" height="1" fill="#c0c0c0"/>
<rect x="134" y="667" width="1" height="1" fill="#c0c0c0"/>
<rect x="142" y="667" width="1" height="1" fill="#c0c0c0"/>
<rect x="150" y="667" width="1" height="1" fill="#c0c0c0"/>
<rect x="158" y="667" width="1" height="1" fill="#c0c0c0"/>
<rect x="166" y="667" width="1" height="2" fill="#c0c0c0"/>
<rect x="174" y="667" width="1" height="3" fill="#c0c0c0"/>
<rect x="182" y="667" width="1" height="3" fill="#c0c0c0"/>
<rect x="190" y="667" width="1" height="3" fill="#c0c0c0"/>
<rect x="198" y="667" width="1" height="5" fill="#c0c0c0"/>
<rect x="206" y="667" width="1" height="7" fill="#c0c0c0"/>
<rect x="214" y="667" width="1" height="8" fill="#c0c0c0"/>
<rect x="222" y="667" width="1" height="9" fill="#c0c0c0"/>
<rect x="230" y="667" width="1" height="10" fill="#c0c0c0"/>
<rect x="238" y="667" width="1" height="11" fill="#c0c0c0"/>
<rect x="246" y="667" width="1" height="12" fill="#c0c0c0"/>
<rect x="254" y="667" width="1" height="11" fill="#c0c0c0"/>
<rect x="262" y="667" width="1" height="11" fill="#c0c0c0"/>
<rect x="270" y="667" width="1" height="10" fill="#c0c0c0"/>
<rect x="278" y="667" width="1" height="11" fill="#c0c0c0"/>
<rect x="286" y="667" width="1" height="11" fill="#c0c0c0"/>
<rect x="294" y="667" width="1" height="11" fill="#c0c0c0"/>
<rect x="302" y="667" width="1" height="11" fill="#c0c0c0"/>
<rect x="310" y="667" width="1" height="10" fill="#c0c0c0"/>
<rect x="318" y="667" width="1" height="9" fill="#c0c0c0"/>
<rect x="326" y="667" width="1" height="8" fill="#c0c0c0"/>
<rect x="334" y="667" width="1" height="7" fill="#c0c0c0"/>
<rect x="342" y="667" width="1" height="7" fill="#c0c0c0"/>
<rect x="350" y="667" width="1" height="7" fill="#c0c0c0"/>
<rect x="358" y="667" width="1" height="7" fill="#c0c0c0"/>
<rect x="366" y="667" width="1" height="8" fill="#c0c0c0"/>
<rect x="374" y="667" width="1" height="9" fill="#c0c0c0"/>
<rect x="382" y="667" width="1" height="9" fill="#c0c0c0"/>
<rect x="390" y="667" width="1" height="9" fill="#c0c0c0"/>
<rect x="398" y="667" width="1" height="9" fill="#c0c0c0"/>
<rect x="406" y="667" width="1" height="11" fill="#c0c0c0"/>
<rect x="414" y="667" width="1" height="10" fill="#c0c0c0"/>
<rect x="422" y="667" width="1" height="14" fill="#c0c0c0"/>
<rect x="430" y="667" width="1" height="14" fill="#c0c0c0"/>
<rect x="438" y="667" width="1" height="13" fill="#c0c0c0"/>
<rect x="446" y="667" width="1" height="12" fill="#c0c0c0"/>
<rect x="454" y="667" width="1" height="11" fill="#c0c0c0"/>
<rect x="462" y="667" width="1" height="10" fill="#c0c0c0"/>
<rect x="470" y="667" width="1" height="9" fill="#c0c0c0"/>
<rect x="478" y="667" width="1" height="7" fill="#c0c0c0"/>
<rect x="486" y="667" width="1" height="6" fill="#c0c0c0"/>
<rect x="494" y="667" width="1" height="8" fill="#c0c0c0"/>
<rect x="502" y="667" width="1" height="9" fill="#c0c0c0"/>
<rect x="510" y="667" width="1" height="14" fill="#c0c0c0"/>
<rect x="518" y="667" width="1" height="19" fill="#c0c0c0"/>
<rect x="526" y="667" width="1" height="24" fill="#c0c0c0"/>
<rect x="534" y="667" width="1" height="27" fill="#c0c0c0"/>
<rect x="542" y="667" width="1" height="32" fill="#c0c0c0"/>
<rect x="550" y="667" width="1" height="39" fill="#c0c0c0"/>
<rect x="558" y="667" width="1" height="43" fill="#c0c0c0"/>
<rect x="566" y="667" width="1" height="46" fill="#c0c0c0"/>
<rect x="574" y="667" width="1" height="48" fill="#c0c0c0"/>
<rect x="582" y="667" width="1" height="50" fill="#c0c0c0"/>
<rect x="590" y="667" width="1" height="48" fill="#c0c0c0"/>
<rect x="598" y="667" width="1" height="46" fill="#c0c0c0"/>
<rect x="606" y="667" width="1" height="42" fill="#c0c0c0"/>
<rect x="614" y="667" width="1" height="37" fill="#c0c0c0"/>
<rect x="622" y="667" width="1" height="31" fill="#c0c0c0"/>
<rect x="630" y="667" width="1" height="27" fill="#c0c0c0"/>
<rect x="638" y="667" width="1" height="24" fill="#c0c0c0"/>
<rect x="646" y="667" width="1" height="21" fill="#c0c0c0"/>
<rect x="654" y="667" width="1" height="21" fill="#c0c0c0"/>
<rect x="662" y="667" width="1" height="20" fill="#c0c0c0"/>
<rect x="670" y="667" width="1" height="20" fill="#c0c0c0"/>
<rect x="678" y="667" width="1" height="18" fill="#c0c0c0"/>
<rect x="686" y="667" width="1" height="14" fill="#c0c0c0"/>
<rect x="694" y="667" width="1" height="11" fill="#c0c0c0"/>
<rect x="702" y="667" width="1" height="6" fill="#c0c0c0"/>
<rect x="710" y="667" width="1" height="2" fill="#c0c0c0"/>
<rect x="718" y="666" width="1" height="2" fill="#c0c0c0"/>
<rect x="726" y="663" width="1" height="5" fill="#c0c0c0"/>
<rect x="734" y="660" width="1" height="8" fill="#c0c0c0"/>
<rect x="742" y="659" width="1" height="9" fill="#c0c0c0"/>
<rect x="750" y="659" width="1" height="9" fill="#c0c0c0"/>
<rect x="758" y="658" width="1" height="10" fill="#c0c0c0"/>
<rect x="766" y="658" width="1" height="10" fill="#c0c0c0"/>
<rect x="774" y="657" width="1" height="11" fill="#c0c0c0"/>
<rect x="782" y="658" width="1" height="10" fill="#c0c0c0"/>
<rect x="790" y="659" width="1" height="9" fill="#c0c0c0"/>
<rect x="798" y="658" width="1" height="10" fill="#c0c0c0"/>
<rect x="806" y="657" width="1" height="11" fill="#c0c0c0"/>
<rect x="814" y="657" width="1" height="11" fill="#c0c0c0"/>
<rect x="822" y="656" width="1" height="12" fill="#c0c0c0"/>
<rect x="830" y="654" width="1" height="14" fill="#c0c0c0"/>
<rect x="838" y="652" width="1" height="16" fill="#c0c0c0"/>
<rect x="846" y="651" width="1" height="17" fill="#c0c0c0"/>
<rect x="854" y="653" width="1" height="15" fill="#c0c0c0"/>
<rect x="862" y="654" width="1" height="14" fill="#c0c0c0"/>
<rect x="870" y="655" width="1" height="13" fill="#c0c0c0"/>
<rect x="878" y="655" width="1" height="13" fill="#c0c0c0"/>
<rect x="886" y="656" width="1" height="12" fill="#c0c0c0"/>
<rect x="894" y="656" width="1" height="12" fill="#c0c0c0"/>
<rect x="902" y="655" width="1" height="13" fill="#c0c0c0"/>
<rect x="910" y="654" width="1" height="14" fill="#c0c0c0"/>
<rect x="918" y="654" width="1" height="14" fill="#c0c0c0"/>
<rect x="926" y="655" width="1" height="13" fill="#c0c0c0"/>
<rect x="934" y="656" width="1" height="12" fill="#c0c0c0"/>
<rect x="942" y="658" width="1" height="10" fill="#c0c0c0"/>
<rect x="950" y="660" width="1" height="8" fill="#c0c0c0"/>
<rect x="958" y="661" width="1" height="7" fill="#c0c0c0"/>
<rect x="966" y="660" width="1" height="8" fill="#c0c0c0"/>
<rect x="974" y="659" width="1" height="9" fill="#c0c0c0"/>
<rect x="982" y="658" width="1" height="10" fill="#c0c0c0"/>
<rect x="990" y="658" width="1" height="10" fill="#c0c0c0"/>
<rect x="998" y="659" width="1" height="9" fill="#c0c0c0"/>
<rect x="1006" y="658" width="1" height="10" fill="#c0c0c0"/>
<rect x="1014" y="658" width="1" height="10" fill="#c0c0c0"/>
<rect x="1022" y="657" width="1" height="11" fill="#c0c0c0"/>
<rect x="1030" y="656" width="1" height="12" fill="#c0c0c0"/>
<rect x="1038" y="655" width="1" height="13" fill="#c0c0c0"/>
<rect x="1046" y="655" width="1" height="13" fill="#c0c0c0"/>
<rect x="1054" y="654" width="1" height="14" fill="#c0c0c0"/>
<rect x="1062" y="651" width="1" height="17" fill="#c0c0c0"/>
<rect x="1070" y="648" width="1" height="20" fill="#c0c0c0"/>
<rect x="1078" y="644" width="1" height="24" fill="#c0c0c0"/>
<rect x="1086" y="642" width="1" height="26" fill="#c0c0c0"/>
<rect x="1094" y="639" width="1" height="29" fill="#c0c0c0"/>
<rect x="1102" y="638" width="1" height="30" fill="#c0c0c0"/>
<rect x="1110" y="637" width="1" height="31" fill="#c0c0c0"/>
<rect x="1118" y="637" width="1" height="31" fill="#c0c0c0"/>
<rect x="1126" y="637" width="1" height="31" fill="#c0c0c0"/>
<rect x="1134" y="639" width="1" height="29" fill="#c0c0c0"/>
<rect x="1142" y="641" width="1" height="27" fill="#c0c0c0"/>
<rect x="1150" y="644" width="1" height="24" fill="#c0c0c0"/>
<rect x="1158" y="646" width="1" height="22" fill="#c0c0c0"/>
<rect x="1166" y="647" width="1" height="21" fill="#c0c0c0"/>
<rect x="1174" y="648" width="1" height="20" fill="#c0c0c0"/>
<rect x="1182" y="650" width="1" height="18" fill="#c0c0c0"/>
<rect x="1190" y="652" width="1" height="16" fill="#c0c0c0"/>
<rect x="1198" y="653" width="1" height="15" fill="#c0c0c0"/>
<rect x="1206" y="654" width="1" height="14" fill="#c0c0c0"/>
<rect x="1214" y="653" width="1" height="15" fill="#c0c0c0"/>
<rect x="1222" y="654" width="1" height="14" fill="#c0c0c0"/>
<rect x="1230" y="656" width="1" height="12" fill="#c0c0c0"/>
<rect x="1238" y="657" width="1" height="11" fill="#c0c0c0"/>
<rect x="1246" y="658" width="1" height="10" fill="#c0c0c0"/>
<rect x="1254" y="659" width="1" height="9" fill="#c0c0c0"/>
<rect x="1262" y="660" width="1" height="8" fill="#c0c0c0"/>
<path d="M1140 638.5h3M1146 638.5h3M1152 638.5h3M1134 639.5h3M1158 639.5h3M1164 639.5h1M1128 640.5h3M1165 640.5h2M1170 640.5h3M1122 641.5h3M1176 641.5h3M1116 642.5h3M1182 642.5h3M1110 644.5h3M1188 644.5h3M1105 645.5h2M1194 645.5h3M1104 646.5h1M1200 646.5h3M1098 647.5h3M1206 647.5h3M1092 648.5h3M1212 648.5h2M1214 649.5h1M1086 650.5h3M1218 650.5h3M1224 650.5h1M1080 651.5h3M1225 651.5h2M1230 651.5h3M1074 652.5h3M1236 652.5h3M870 653.5h3M876 653.5h3M882 653.5h3M888 653.5h3M894 653.5h3M900 653.5h3M906 653.5h3M912 653.5h3M1242 653.5h3M846 654.5h3M852 654.5h3M858 654.5h3M864 654.5h3M918 654.5h3M924 654.5h3M930 654.5h3M936 654.5h3M942 654.5h3M1063 654.5h2M1068 654.5h3M1248 654.5h3M1254 654.5h3M948 655.5h3M954 655.5h3M1046 655.5h1M1050 655.5h3M1056 655.5h3M1062 655.5h1M1260 655.5h2M828 656.5h3M834 656.5h3M840 656.5h3M960 656.5h3M1038 656.5h3M1044 656.5h2M800 657.5h1M804 657.5h3M810 657.5h3M816 657.5h3M822 657.5h3M966 657.5h3M972 657.5h3M978 657.5h3M984 657.5h1M1026 657.5h3M1032 657.5h3M31 658.5h2M36 658.5h3M42 658.5h3M48 658.5h3M54 658.5h3M60 658.5h3M66 658.5h3M786 658.5h3M792 658.5h3M798 658.5h2M985 658.5h2M990 658.5h3M996 658.5h3M1002 658.5h3M1008 658.5h3M1014 658.5h3M1020 658.5h3M18 659.5h3M24 659.5h3M30 659.5h1M72 659.5h3M78 659.5h2M781 659.5h2M12 660.5h3M80 660.5h1M84 660.5h3M90 660.5h1M780 660.5h1M6 661.5h3M91 661.5h2M774 661.5h3M96 662.5h3M768 662.5h3M102 663.5h3M763 663.5h2M108 664.5h3M114 664.5h3M120 664.5h3M762 664.5h1M126 665.5h3M756 665.5h3M132 666.5h3M138 666.5h3M144 667.5h3M150 667.5h3M156 667.5h3M162 667.5h3M750 667.5h3M168 668.5h3M174 668.5h3M180 668.5h3M186 668.5h1M187 669.5h2M192 669.5h3M198 669.5h3M744 669.5h3M204 670.5h3M210 670.5h3M216 671.5h3M738 671.5h3M222 672.5h3M228 673.5h3M732 673.5h3M234 674.5h3M240 674.5h3M246 675.5h3M354 675.5h3M360 675.5h3M366 675.5h3M372 675.5h3M378 675.5h3M384 675.5h3M390 675.5h3M396 675.5h3M402 675.5h1M727 675.5h2M252 676.5h3M258 676.5h3M264 676.5h3M342 676.5h3M348 676.5h3M403 676.5h2M408 676.5h3M414 676.5h1M726 676.5h1M270 677.5h3M276 677.5h3M282 677.5h3M318 677.5h3M324 677.5h3M330 677.5h3M336 677.5h3M415 677.5h2M420 677.5h3M426 677.5h1M486 677.5h3M492 677.5h3M498 677.5h3M504 677.5h3M510 677.5h3M516 677.5h3M522 677.5h3M288 678.5h3M294 678.5h3M300 678.5h3M306 678.5h3M312 678.5h3M427 678.5h2M432 678.5h3M720 678.5h3M438 679.5h3M444 679.5h3M450 679.5h3M456 679.5h3M462 679.5h3M468 679.5h3M474 679.5h3M480 679.5h3M528 679.5h3M715 680.5h2M534 681.5h3M714 681.5h1M540 682.5h1M709 682.5h2M541 683.5h1M708 683.5h1M542 684.5h1M703 684.5h2M702 685.5h1M546 686.5h3M697 686.5h2M692 687.5h1M696 687.5h1M552 688.5h1M690 688.5h2M553 689.5h1M685 689.5h2M554 690.5h1M680 690.5h1M684 690.5h1M678 691.5h2M558 692.5h3M673 692.5h2M672 693.5h1M564 694.5h2M566 695.5h1M666 695.5h3M570 697.5h3M661 697.5h2M660 698.5h1M576 699.5h1M655 699.5h2M577 700.5h1M654 700.5h1M578 701.5h1M649 701.5h2M648 702.5h1M582 703.5h3M644 703.5h1M642 704.5h2M588 705.5h1M589 706.5h1M637 706.5h2M590 707.5h1M636 707.5h1M594 708.5h3M632 708.5h1M600 709.5h1M625 709.5h2M630 709.5h2M601 710.5h2M612 710.5h3M618 710.5h3M624 710.5h1M606 711.5h3" fill="none" stroke="#ff0000" stroke-width="1"/>
<rect x="1599" y="667" width="2" height="1" fill="#000"/>
</g>
<text x="10.3" y="643" font-size="10.2" fill="#000" stroke="#000" stroke-width="0.12" textLength="65.5" lengthAdjust="spacingAndGlyphs">MACD(12,26,9)</text>
<text x="79.2" y="643" font-size="10.2" fill="#000" stroke="#000" stroke-width="0.12" textLength="37.8" lengthAdjust="spacingAndGlyphs">0.003556</text>
<text x="119.9" y="643" font-size="10.2" fill="#000" stroke="#000" stroke-width="0.12" textLength="37.8" lengthAdjust="spacingAndGlyphs">0.005237</text>
<text x="1601.7" y="641" font-size="10.2" fill="#000" stroke="#000" stroke-width="0.12" textLength="37.8" lengthAdjust="spacingAndGlyphs">0.015741</text>
<text x="1601.7" y="671" font-size="10.2" fill="#000" stroke="#000" stroke-width="0.12" textLength="18" lengthAdjust="spacingAndGlyphs">0.00</text>
<text x="1601.7" y="720" font-size="10.2" fill="#000" stroke="#000" stroke-width="0.12" textLength="41" lengthAdjust="spacingAndGlyphs">-0.024411</text>
<rect x="6" y="723" width="1" height="3" fill="#000" shape-rendering="crispEdges"/>
<text x="4.7" y="735" font-size="10.2" fill="#000" stroke="#000" stroke-width="0.12" textLength="52.8" lengthAdjust="spacingAndGlyphs">30 Dec 2019</text>
<rect x="70" y="723" width="1" height="3" fill="#000" shape-rendering="crispEdges"/>
<text x="68.7" y="735" font-size="10.2" fill="#000" stroke="#000" stroke-width="0.12" textLength="45.8" lengthAdjust="spacingAndGlyphs">8 Jan 2020</text>
<rect x="134" y="723" width="1" height="3" fill="#000" shape-rendering="crispEdges"/>
<text x="132.7" y="735" font-size="10.2" fill="#000" stroke="#000" stroke-width="0.12" textLength="50.5" lengthAdjust="spacingAndGlyphs">17 Jan 2020</text>
<rect x="198" y="723" width="1" height="3" fill="#000" shape-rendering="crispEdges"/>
<text x="196.7" y="735" font-size="10.2" fill="#000" stroke="#000" stroke-width="0.12" textLength="50.3" lengthAdjust="spacingAndGlyphs">27 Jan 2020</text>
<rect x="262" y="723" width="1" height="3" fill="#000" shape-rendering="crispEdges"/>
<text x="260.7" y="735" font-size="10.2" fill="#000" stroke="#000" stroke-width="0.12" textLength="47.099999999999994" lengthAdjust="spacingAndGlyphs">5 Feb 2020</text>
<rect x="326" y="723" width="1" height="3" fill="#000" shape-rendering="crispEdges"/>
<text x="324.7" y="735" font-size="10.2" fill="#000" stroke="#000" stroke-width="0.12" textLength="52.099999999999994" lengthAdjust="spacingAndGlyphs">14 Feb 2020</text>
<rect x="390" y="723" width="1" height="3" fill="#000" shape-rendering="crispEdges"/>
<text x="388.7" y="735" font-size="10.2" fill="#000" stroke="#000" stroke-width="0.12" textLength="52.099999999999994" lengthAdjust="spacingAndGlyphs">24 Feb 2020</text>
<rect x="454" y="723" width="1" height="3" fill="#000" shape-rendering="crispEdges"/>
<text x="452.7" y="735" font-size="10.2" fill="#000" stroke="#000" stroke-width="0.12" textLength="47.099999999999994" lengthAdjust="spacingAndGlyphs">4 Mar 2020</text>
<rect x="518" y="723" width="1" height="3" fill="#000" shape-rendering="crispEdges"/>
<text x="516.7" y="735" font-size="10.2" fill="#000" stroke="#000" stroke-width="0.12" textLength="52.199999999999996" lengthAdjust="spacingAndGlyphs">13 Mar 2020</text>
<rect x="582" y="723" width="1" height="3" fill="#000" shape-rendering="crispEdges"/>
<text x="580.7" y="735" font-size="10.2" fill="#000" stroke="#000" stroke-width="0.12" textLength="52.5" lengthAdjust="spacingAndGlyphs">23 Mar 2020</text>
<rect x="646" y="723" width="1" height="3" fill="#000" shape-rendering="crispEdges"/>
<text x="644.7" y="735" font-size="10.2" fill="#000" stroke="#000" stroke-width="0.12" textLength="46.099999999999994" lengthAdjust="spacingAndGlyphs">1 Apr 2020</text>
<rect x="710" y="723" width="1" height="3" fill="#000" shape-rendering="crispEdges"/>
<text x="708.7" y="735" font-size="10.2" fill="#000" stroke="#000" stroke-width="0.12" textLength="51.099999999999994" lengthAdjust="spacingAndGlyphs">10 Apr 2020</text>
<rect x="774" y="723" width="1" height="3" fill="#000" shape-rendering="crispEdges"/>
<text x="772.7" y="735" font-size="10.2" fill="#000" stroke="#000" stroke-width="0.12" textLength="51.099999999999994" lengthAdjust="spacingAndGlyphs">20 Apr 2020</text>
<rect x="838" y="723" width="1" height="3" fill="#000" shape-rendering="crispEdges"/>
<text x="836.7" y="735" font-size="10.2" fill="#000" stroke="#000" stroke-width="0.12" textLength="52.099999999999994" lengthAdjust="spacingAndGlyphs">29 Apr 2020</text>
<rect x="902" y="723" width="1" height="3" fill="#000" shape-rendering="crispEdges"/>
<text x="900.7" y="735" font-size="10.2" fill="#000" stroke="#000" stroke-width="0.12" textLength="50.5" lengthAdjust="spacingAndGlyphs">8 May 2020</text>
<rect x="966" y="723" width="1" height="3" fill="#000" shape-rendering="crispEdges"/>
<text x="964.7" y="735" font-size="10.2" fill="#000" stroke="#000" stroke-width="0.12" textLength="55.099999999999994" lengthAdjust="spacingAndGlyphs">18 May 2020</text>
<rect x="1030" y="723" width="1" height="3" fill="#000" shape-rendering="crispEdges"/>
<text x="1028.7" y="735" font-size="10.2" fill="#000" stroke="#000" stroke-width="0.12" textLength="55.199999999999996" lengthAdjust="spacingAndGlyphs">27 May 2020</text>
<rect x="1094" y="723" width="1" height="3" fill="#000" shape-rendering="crispEdges"/>
<text x="1092.7" y="735" font-size="10.2" fill="#000" stroke="#000" stroke-width="0.12" textLength="45.5" lengthAdjust="spacingAndGlyphs">5 Jun 2020</text>
<rect x="1158" y="723" width="1" height="3" fill="#000" shape-rendering="crispEdges"/>
<text x="1156.7" y="735" font-size="10.2" fill="#000" stroke="#000" stroke-width="0.12" textLength="50.099999999999994" lengthAdjust="spacingAndGlyphs">15 Jun 2020</text>
<rect x="1222" y="723" width="1" height="3" fill="#000" shape-rendering="crispEdges"/>
<text x="1220.7" y="735" font-size="10.2" fill="#000" stroke="#000" stroke-width="0.12" textLength="50.099999999999994" lengthAdjust="spacingAndGlyphs">24 Jun 2020</text>
<rect x="0" y="744" width="1639" height="1" fill="#e3e3e3"/>
<rect x="0" y="745" width="1639" height="1" fill="#000"/>
<rect x="0" y="746" width="1639" height="19" fill="#f0f0f0"/>
<rect x="0" y="765" width="1639" height="1" fill="#fff"/>
<rect x="0" y="766" width="1639" height="2" fill="#f0f0f0"/>
<rect x="0" y="768" width="1639" height="1" fill="#f8f8f8"/>
<rect x="0" y="769" width="1639" height="1" fill="#a0a0a0"/>
<rect x="1" y="746" width="1" height="18" fill="#a0a0a0"/>
<rect x="2" y="746" width="1" height="18" fill="#696969"/>
<rect x="0" y="764" width="3" height="1" fill="#696969"/>
<rect x="212" y="745" width="102" height="18" fill="#fff"/>
<rect x="211" y="745" width="1" height="19" fill="#000"/>
<rect x="314" y="746" width="1" height="18" fill="#000"/>
<rect x="211" y="763" width="104" height="1" fill="#000"/>
<rect x="315" y="747" width="1" height="18" fill="#c8c8c8"/>
<rect x="213" y="764" width="103" height="1" fill="#c8c8c8"/>
<text x="18.8" y="760" font-size="12.8" fill="#707070" stroke="#707070" stroke-width="0" textLength="80.5" lengthAdjust="spacingAndGlyphs">EURUSD,Daily</text>
<text x="120.0" y="760" font-size="12.8" fill="#707070" stroke="#707070" stroke-width="0" textLength="80.9" lengthAdjust="spacingAndGlyphs">USDCHF,Daily</text>
<text x="221.29999999999998" y="760" font-size="12.8" fill="#000" stroke="#000" stroke-width="0" textLength="83.7" lengthAdjust="spacingAndGlyphs">AUDUSD,Daily</text>
<text x="325.4" y="760" font-size="12.8" fill="#707070" stroke="#707070" stroke-width="0" textLength="82.2" lengthAdjust="spacingAndGlyphs">USDCAD,Daily</text>
<text x="428.7" y="760" font-size="12.8" fill="#707070" stroke="#707070" stroke-width="0" textLength="83.6" lengthAdjust="spacingAndGlyphs">USDCNH,Daily</text>
<text x="533.4000000000001" y="760" font-size="12.8" fill="#707070" stroke="#707070" stroke-width="0" textLength="78.6" lengthAdjust="spacingAndGlyphs">EURUSD,M15</text>
<text x="633.4000000000001" y="760" font-size="12.8" fill="#707070" stroke="#707070" stroke-width="0" textLength="79.2" lengthAdjust="spacingAndGlyphs">GBPUSD,M30</text>
<text x="733.1" y="760" font-size="12.8" fill="#707070" stroke="#707070" stroke-width="0" textLength="82.9" lengthAdjust="spacingAndGlyphs">XAUUSD,Daily</text>
<text x="837.5" y="760" font-size="12.8" fill="#707070" stroke="#707070" stroke-width="0" textLength="50.7" lengthAdjust="spacingAndGlyphs">HK50,H1</text>
<text x="909.2" y="760" font-size="12.8" fill="#707070" stroke="#707070" stroke-width="0" textLength="57.8" lengthAdjust="spacingAndGlyphs">UK100,H1</text>
<text x="989.8000000000001" y="760" font-size="12.8" fill="#707070" stroke="#707070" stroke-width="0" textLength="57.1" lengthAdjust="spacingAndGlyphs">UK100,H1</text>
<text x="1069.7" y="760" font-size="12.8" fill="#707070" stroke="#707070" stroke-width="0" textLength="57.7" lengthAdjust="spacingAndGlyphs">GER30,H1</text>
<text x="1148.5" y="760" font-size="12.8" fill="#707070" stroke="#707070" stroke-width="0" textLength="55.8" lengthAdjust="spacingAndGlyphs">FRA40,H1</text>
<text x="1224.7" y="760" font-size="12.8" fill="#707070" stroke="#707070" stroke-width="0" textLength="51.7" lengthAdjust="spacingAndGlyphs">USOil,H4</text>
<text x="1296.9" y="760" font-size="12.8" fill="#707070" stroke="#707070" stroke-width="0" textLength="63.4" lengthAdjust="spacingAndGlyphs">USDJPY,H1</text>
<text x="1381.8" y="760" font-size="12.8" fill="#707070" stroke="#707070" stroke-width="0" textLength="57.4" lengthAdjust="spacingAndGlyphs">DJ30,M15</text>
<rect x="111" y="748" width="1" height="14" fill="#404040"/>
<rect x="419" y="748" width="1" height="14" fill="#404040"/>
<rect x="523" y="748" width="1" height="14" fill="#404040"/>
<rect x="623" y="748" width="1" height="14" fill="#404040"/>
<rect x="723" y="748" width="1" height="14" fill="#404040"/>
<rect x="827" y="748" width="1" height="14" fill="#404040"/>
<rect x="899" y="748" width="1" height="14" fill="#404040"/>
<rect x="979" y="748" width="1" height="14" fill="#404040"/>
<rect x="1059" y="748" width="1" height="14" fill="#404040"/>
<rect x="1139" y="748" width="1" height="14" fill="#404040"/>
<rect x="1215" y="748" width="1" height="14" fill="#404040"/>
<rect x="1287" y="748" width="1" height="14" fill="#404040"/>
<rect x="1371" y="748" width="1" height="14" fill="#404040"/>
<rect x="1452" y="748" width="1" height="14" fill="#404040"/>
<g shape-rendering="crispEdges">
<rect x="1616" y="752" width="1" height="5" fill="#a0a0a0"/>
<rect x="1615" y="753" width="1" height="3" fill="#a0a0a0"/>
<rect x="1614" y="754" width="1" height="1" fill="#a0a0a0"/>
<rect x="1633" y="752" width="1" height="5" fill="#a0a0a0"/>
<rect x="1634" y="753" width="1" height="3" fill="#a0a0a0"/>
<rect x="1635" y="754" width="1" height="1" fill="#a0a0a0"/>
</g>
</svg>
</body></html>
